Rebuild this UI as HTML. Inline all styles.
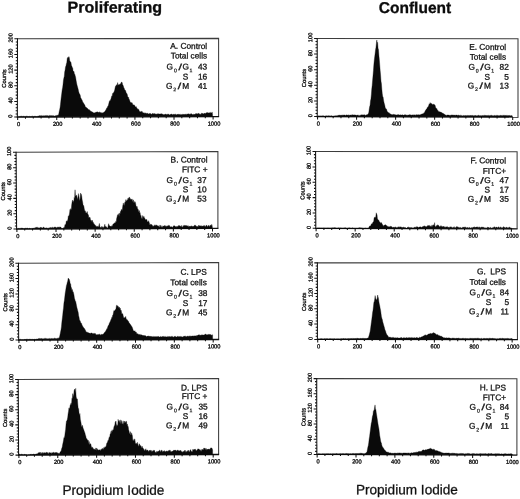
<!DOCTYPE html>
<html lang="en">
<head>
<meta charset="utf-8">
<title>Cell cycle analysis - Propidium Iodide</title>
<style>
html,body{margin:0;padding:0;background:#fff;}
body{width:520px;height:499px;overflow:hidden;}
svg{display:block;filter:blur(0.32px);}
text{font-family:"Liberation Sans", Arial, Helvetica, sans-serif;fill:#141414;text-rendering:geometricPrecision;}
.ttl{font-size:15.7px;font-weight:bold;fill:#0c0c0c;stroke:#0c0c0c;stroke-width:0.3px;}
.xl{font-size:13.6px;fill:#111;stroke:#111;stroke-width:0.28px;}
.an{font-size:8.3px;stroke:#141414;stroke-width:0.3px;}
.sb{font-size:5.2px;stroke:#141414;stroke-width:0.2px;}
.sl{font-size:8.8px;font-weight:bold;font-style:italic;stroke:#141414;stroke-width:0.35px;}
.tk{font-size:5.7px;fill:#151515;stroke:#151515;stroke-width:0.32px;}
.ct{font-size:5.8px;fill:#151515;stroke:#151515;stroke-width:0.32px;}
</style>
</head>
<body>
<svg width="520" height="499" viewBox="0 0 520 499">
<rect x="0" y="0" width="520" height="499" fill="#ffffff"/>
<text class="ttl" x="67.6" y="12.5" transform="rotate(0.03 67.6 12.5)" textLength="94.6" lengthAdjust="spacingAndGlyphs">Proliferating</text>
<text class="ttl" x="378.8" y="13.0" transform="rotate(0.03 378.8 13)" textLength="72.4" lengthAdjust="spacingAndGlyphs">Confluent</text>

<g id="panel-A">
<path d="M17.50 38.80L218.60 38.40L218.60 116.60" fill="none" stroke="#3c3c3c" stroke-width="1.05"/>
<path d="M17.50 38.30L17.35 117.65" fill="none" stroke="#111" stroke-width="1.05"/>
<path d="M16.85 117.05L219.10 116.60" fill="none" stroke="#111" stroke-width="1.3"/>
<path d="M17.35 117.05h-3.10M17.36 113.92h-1.70M17.36 110.79h-1.70M17.37 107.66h-1.70M17.37 104.53h-1.70M17.38 101.40h-3.10M17.39 98.27h-1.70M17.39 95.14h-1.70M17.40 92.01h-1.70M17.40 88.88h-1.70M17.41 85.75h-3.10M17.42 82.62h-1.70M17.42 79.49h-1.70M17.43 76.36h-1.70M17.43 73.23h-1.70M17.44 70.10h-3.10M17.45 66.97h-1.70M17.45 63.84h-1.70M17.46 60.71h-1.70M17.46 57.58h-1.70M17.47 54.45h-3.10M17.48 51.32h-1.70M17.48 48.19h-1.70M17.49 45.06h-1.70M17.49 41.93h-1.70M17.50 38.80h-3.10" stroke="#111" stroke-width="1.05" fill="none"/>
<text class="tk" text-anchor="middle" transform="translate(12.35 116.05) rotate(-89.95)">0</text>
<text class="tk" text-anchor="middle" transform="translate(12.38 100.40) rotate(-89.95)">40</text>
<text class="tk" text-anchor="middle" transform="translate(12.41 84.75) rotate(-89.95)">80</text>
<text class="tk" text-anchor="middle" transform="translate(12.44 69.10) rotate(-89.95)">120</text>
<text class="tk" text-anchor="middle" transform="translate(12.47 53.45) rotate(-89.95)">160</text>
<text class="tk" text-anchor="middle" transform="translate(12.50 37.80) rotate(-89.95)">200</text>
<text class="ct" text-anchor="middle" transform="translate(6.12 78.52) rotate(-89.95)">Counts</text>
<path d="M17.65 117.05v3.00M25.47 117.03v1.60M33.29 117.01v1.60M41.10 117.00v1.60M48.92 116.98v1.60M56.74 116.96v3.00M64.56 116.94v1.60M72.38 116.93v1.60M80.19 116.91v1.60M88.01 116.89v1.60M95.83 116.87v3.00M103.65 116.86v1.60M111.47 116.84v1.60M119.28 116.82v1.60M127.10 116.80v1.60M134.92 116.79v3.00M142.74 116.77v1.60M150.56 116.75v1.60M158.37 116.73v1.60M166.19 116.72v1.60M174.01 116.70v3.00M181.83 116.68v1.60M189.65 116.66v1.60M197.46 116.65v1.60M205.28 116.63v1.60M213.10 116.61v3.00" stroke="#111" stroke-width="1.05" fill="none"/>
<text class="tk" text-anchor="middle" x="18.55" y="125.90" transform="rotate(0.05 18.55 125.90)">0</text>
<text class="tk" text-anchor="middle" x="57.64" y="125.81" transform="rotate(0.05 57.64 125.81)">200</text>
<text class="tk" text-anchor="middle" x="96.73" y="125.72" transform="rotate(0.05 96.73 125.72)">400</text>
<text class="tk" text-anchor="middle" x="135.82" y="125.64" transform="rotate(0.05 135.82 125.64)">600</text>
<text class="tk" text-anchor="middle" x="174.91" y="125.55" transform="rotate(0.05 174.91 125.55)">800</text>
<text class="tk" text-anchor="middle" x="214.00" y="125.46" transform="rotate(0.05 214.00 125.46)">1000</text>
<path d="M18.50 117.05L18.50 116.30L18.92 116.42L19.34 116.56L19.76 116.61L20.18 116.41L20.60 116.33L21.02 116.17L21.44 116.23L21.86 116.27L22.28 116.67L22.70 116.21L23.12 116.32L23.54 116.21L23.96 116.30L24.38 116.39L24.80 116.42L25.22 116.43L25.64 116.40L26.06 116.26L26.48 116.14L26.90 116.29L27.32 116.40L27.74 116.25L28.16 116.40L28.58 116.56L29.00 116.43L29.42 116.34L29.84 116.38L30.26 116.54L30.68 116.49L31.10 116.36L31.52 116.40L31.94 116.38L32.36 116.19L32.78 116.13L33.20 116.38L33.62 116.41L34.04 116.24L34.46 116.25L34.88 116.33L35.30 116.28L35.72 116.37L36.14 116.35L36.56 116.55L36.98 116.40L37.40 116.25L37.82 116.35L38.24 116.10L38.66 115.96L39.08 115.99L39.50 115.59L39.92 115.73L40.34 115.83L40.76 115.69L41.18 115.44L41.60 115.87L42.02 115.70L42.44 115.71L42.86 115.99L43.28 115.63L43.70 115.79L44.12 115.70L44.54 115.86L44.96 115.77L45.38 115.62L45.80 115.69L46.22 115.45L46.64 115.63L47.06 115.60L47.48 115.80L47.90 115.60L48.32 115.73L48.74 115.92L49.16 115.67L49.58 115.39L50.00 115.38L50.42 115.77L50.84 115.43L51.26 115.57L51.68 115.74L52.10 115.84L52.52 115.45L52.94 115.88L53.36 115.70L53.78 115.64L54.20 116.07L54.62 115.88L55.04 116.01L55.46 115.76L55.88 115.48L56.30 115.34L56.72 115.81L57.14 115.52L57.56 115.24L57.98 115.07L58.40 115.23L58.82 113.58L59.24 111.30L59.66 109.52L60.08 107.41L60.50 104.11L60.92 100.10L61.34 96.55L61.76 93.15L62.18 89.76L62.60 87.73L63.02 84.55L63.44 80.19L63.86 78.09L64.28 76.47L64.70 71.71L65.12 70.07L65.54 66.73L65.96 66.02L66.38 63.66L66.80 62.62L67.22 58.20L67.64 57.94L68.06 57.00L68.48 58.19L68.90 56.54L69.32 57.80L69.74 60.65L70.16 61.56L70.58 61.85L71.00 62.43L71.42 65.46L71.84 65.98L72.26 67.75L72.68 67.76L73.10 71.08L73.52 71.55L73.94 71.18L74.36 73.70L74.78 74.21L75.20 75.73L75.62 77.14L76.04 80.09L76.46 82.27L76.88 84.40L77.30 86.10L77.72 87.61L78.14 89.01L78.56 91.18L78.98 92.62L79.40 93.87L79.82 94.34L80.24 95.37L80.66 97.77L81.08 98.18L81.50 99.32L81.92 99.73L82.34 100.76L82.76 102.06L83.18 102.93L83.60 102.78L84.02 104.36L84.44 104.48L84.86 104.97L85.28 106.85L85.70 106.94L86.12 107.38L86.54 107.66L86.96 107.81L87.38 108.31L87.80 108.69L88.22 109.58L88.64 109.39L89.06 109.85L89.48 109.81L89.90 110.44L90.32 110.74L90.74 111.21L91.16 111.50L91.58 111.62L92.00 111.84L92.42 112.06L92.84 112.27L93.26 112.74L93.68 112.73L94.10 112.89L94.52 112.78L94.94 113.04L95.36 112.13L95.78 112.44L96.20 112.32L96.62 112.06L97.04 112.07L97.46 111.84L97.88 112.19L98.30 112.42L98.72 112.35L99.14 111.86L99.56 112.20L99.98 112.49L100.40 112.35L100.82 113.09L101.24 112.41L101.66 113.29L102.08 112.78L102.50 112.74L102.92 113.22L103.34 112.61L103.76 112.23L104.18 112.09L104.60 111.78L105.02 111.15L105.44 110.62L105.86 109.78L106.28 109.16L106.70 108.07L107.12 107.98L107.54 106.62L107.96 106.13L108.38 105.33L108.80 103.58L109.22 101.75L109.64 100.77L110.06 100.88L110.48 99.63L110.90 99.13L111.32 97.57L111.74 96.02L112.16 96.14L112.58 93.40L113.00 93.50L113.42 92.64L113.84 92.28L114.26 91.28L114.68 90.10L115.10 87.81L115.52 86.11L115.94 86.19L116.36 84.70L116.78 84.95L117.20 85.43L117.62 82.60L118.04 84.36L118.46 85.18L118.88 84.54L119.30 84.21L119.72 84.65L120.14 84.22L120.56 83.51L120.98 83.73L121.40 82.00L121.82 82.08L122.24 82.85L122.66 84.88L123.08 85.26L123.50 86.51L123.92 88.03L124.34 88.40L124.76 89.98L125.18 90.26L125.60 90.59L126.02 92.15L126.44 93.43L126.86 93.37L127.28 94.51L127.70 96.60L128.12 97.45L128.54 97.00L128.96 99.17L129.38 99.48L129.80 100.83L130.22 102.59L130.64 102.22L131.06 102.45L131.48 102.99L131.90 102.44L132.32 103.14L132.74 104.50L133.16 104.83L133.58 104.88L134.00 104.67L134.42 105.01L134.84 106.02L135.26 106.78L135.68 107.12L136.10 106.53L136.52 107.46L136.94 108.19L137.36 108.57L137.78 109.17L138.20 109.15L138.62 109.17L139.04 110.38L139.46 111.16L139.88 111.48L140.30 111.89L140.72 111.44L141.14 111.55L141.56 111.22L141.98 111.76L142.40 111.68L142.82 112.71L143.24 113.07L143.66 112.65L144.08 112.79L144.50 112.88L144.92 113.42L145.34 113.22L145.76 112.87L146.18 113.68L146.60 113.22L147.02 113.31L147.44 113.11L147.86 113.74L148.28 113.97L148.70 113.84L149.12 113.79L149.54 113.31L149.96 113.85L150.38 113.69L150.80 113.39L151.22 114.28L151.64 114.28L152.06 113.77L152.48 113.50L152.90 113.48L153.32 113.50L153.74 113.93L154.16 114.06L154.58 113.55L155.00 113.57L155.42 114.27L155.84 113.90L156.26 114.23L156.68 113.95L157.10 114.16L157.52 113.67L157.94 113.69L158.36 113.71L158.78 113.97L159.20 114.12L159.62 114.04L160.04 113.84L160.46 113.88L160.88 113.94L161.30 113.80L161.72 113.86L162.14 113.96L162.56 114.16L162.98 114.22L163.40 114.48L163.82 114.81L164.24 114.39L164.66 114.51L165.08 114.46L165.50 113.93L165.92 114.04L166.34 114.27L166.76 114.84L167.18 114.42L167.60 114.16L168.02 114.07L168.44 114.16L168.86 114.21L169.28 114.66L169.70 114.88L170.12 114.43L170.54 114.57L170.96 114.09L171.38 114.02L171.80 114.20L172.22 114.83L172.64 114.46L173.06 114.55L173.48 114.35L173.90 114.34L174.32 114.45L174.74 114.22L175.16 114.16L175.58 114.23L176.00 114.55L176.42 114.77L176.84 114.65L177.26 114.11L177.68 114.50L178.10 114.30L178.52 114.35L178.94 114.47L179.36 114.51L179.78 114.35L180.20 114.38L180.62 114.38L181.04 114.78L181.46 114.57L181.88 114.39L182.30 114.10L182.72 114.93L183.14 114.31L183.56 114.41L183.98 114.19L184.40 114.42L184.82 114.29L185.24 114.09L185.66 114.38L186.08 114.29L186.50 114.22L186.92 114.39L187.34 114.07L187.76 114.09L188.18 114.01L188.60 113.79L189.02 114.06L189.44 114.13L189.86 114.21L190.28 114.22L190.70 113.72L191.12 113.70L191.54 113.69L191.96 114.16L192.38 114.60L192.80 114.62L193.22 114.54L193.64 114.21L194.06 114.32L194.48 114.55L194.90 114.11L195.32 114.20L195.74 113.54L196.16 113.60L196.58 113.81L197.00 113.70L197.42 113.65L197.84 113.88L198.26 113.37L198.68 113.26L199.10 114.17L199.52 113.64L199.94 114.23L200.36 114.20L200.78 114.17L201.20 114.14L201.62 113.08L202.04 113.13L202.46 113.48L202.88 113.46L203.30 113.90L203.72 113.75L204.14 113.12L204.56 113.43L204.98 113.28L205.40 113.42L205.82 113.14L206.24 112.69L206.66 112.83L207.08 112.82L207.50 112.46L207.92 112.87L208.34 113.10L208.76 112.80L209.18 112.65L209.60 112.87L210.02 112.69L210.44 112.30L210.86 113.16L211.28 112.88L211.70 112.88L212.12 111.93L212.54 114.26L212.54 116.61 Z" fill="#0a0a0a" stroke="#0a0a0a" stroke-width="0.35" stroke-linejoin="round"/>
<text class="an" text-anchor="end" x="207.20" y="48.90" transform="rotate(0.05 207.20 48.90)" xml:space="preserve">A. Control</text>
<text class="an" text-anchor="end" x="207.20" y="58.60" transform="rotate(0.05 207.20 58.60)">Total cells</text>
<text class="an" x="166.60" y="69.60" transform="rotate(0.05 166.60 69.60)">G</text>
<text class="sb" x="174.00" y="72.20" transform="rotate(0.05 174.00 72.20)">0</text>
<text class="sl" x="178.80" y="69.90" transform="rotate(0.05 178.80 69.90)">/</text>
<text class="an" x="182.40" y="69.60" transform="rotate(0.05 182.40 69.60)">G</text>
<text class="sb" x="189.40" y="72.20" transform="rotate(0.05 189.40 72.20)">1</text>
<text class="an" text-anchor="end" x="207.20" y="69.60" transform="rotate(0.05 207.20 69.60)">43</text>
<text class="an" x="182.80" y="79.50" transform="rotate(0.05 182.80 79.50)">S</text>
<text class="an" text-anchor="end" x="207.20" y="79.50" transform="rotate(0.05 207.20 79.50)">16</text>
<text class="an" x="166.00" y="88.70" transform="rotate(0.05 166.00 88.70)">G</text>
<text class="sb" x="173.20" y="91.30" transform="rotate(0.05 173.20 91.30)">2</text>
<text class="sl" x="178.00" y="89.00" transform="rotate(0.05 178.00 89.00)">/</text>
<text class="an" x="182.20" y="88.70" transform="rotate(0.05 182.20 88.70)">M</text>
<text class="an" text-anchor="end" x="207.20" y="88.70" transform="rotate(0.05 207.20 88.70)">41</text>
</g>
<g id="panel-B">
<path d="M16.10 152.30L217.90 151.50L217.90 228.40" fill="none" stroke="#3c3c3c" stroke-width="1.05"/>
<path d="M16.10 151.80L16.60 229.65" fill="none" stroke="#111" stroke-width="1.05"/>
<path d="M16.10 229.05L218.40 228.40" fill="none" stroke="#111" stroke-width="1.3"/>
<path d="M16.60 229.05h-3.10M16.58 225.98h-1.70M16.56 222.91h-1.70M16.54 219.84h-1.70M16.52 216.77h-1.70M16.50 213.70h-3.10M16.48 210.63h-1.70M16.46 207.56h-1.70M16.44 204.49h-1.70M16.42 201.42h-1.70M16.40 198.35h-3.10M16.38 195.28h-1.70M16.36 192.21h-1.70M16.34 189.14h-1.70M16.32 186.07h-1.70M16.30 183.00h-3.10M16.28 179.93h-1.70M16.26 176.86h-1.70M16.24 173.79h-1.70M16.22 170.72h-1.70M16.20 167.65h-3.10M16.18 164.58h-1.70M16.16 161.51h-1.70M16.14 158.44h-1.70M16.12 155.37h-1.70M16.10 152.30h-3.10" stroke="#111" stroke-width="1.05" fill="none"/>
<text class="tk" text-anchor="middle" transform="translate(11.60 228.05) rotate(-89.95)">0</text>
<text class="tk" text-anchor="middle" transform="translate(11.50 212.70) rotate(-89.95)">20</text>
<text class="tk" text-anchor="middle" transform="translate(11.40 197.35) rotate(-89.95)">40</text>
<text class="tk" text-anchor="middle" transform="translate(11.30 182.00) rotate(-89.95)">60</text>
<text class="tk" text-anchor="middle" transform="translate(11.20 166.65) rotate(-89.95)">80</text>
<text class="tk" text-anchor="middle" transform="translate(11.10 151.30) rotate(-89.95)">100</text>
<text class="ct" text-anchor="middle" transform="translate(5.05 191.28) rotate(-89.95)">Counts</text>
<path d="M16.90 229.05v3.00M24.72 229.02v1.60M32.55 229.00v1.60M40.37 228.97v1.60M48.20 228.95v1.60M56.02 228.92v3.00M63.84 228.90v1.60M71.67 228.87v1.60M79.49 228.85v1.60M87.32 228.82v1.60M95.14 228.80v3.00M102.96 228.77v1.60M110.79 228.75v1.60M118.61 228.72v1.60M126.44 228.70v1.60M134.26 228.67v3.00M142.08 228.64v1.60M149.91 228.62v1.60M157.73 228.59v1.60M165.56 228.57v1.60M173.38 228.54v3.00M181.20 228.52v1.60M189.03 228.49v1.60M196.85 228.47v1.60M204.68 228.44v1.60M212.50 228.42v3.00" stroke="#111" stroke-width="1.05" fill="none"/>
<text class="tk" text-anchor="middle" x="17.80" y="237.90" transform="rotate(0.05 17.80 237.90)">0</text>
<text class="tk" text-anchor="middle" x="56.92" y="237.77" transform="rotate(0.05 56.92 237.77)">200</text>
<text class="tk" text-anchor="middle" x="96.04" y="237.65" transform="rotate(0.05 96.04 237.65)">400</text>
<text class="tk" text-anchor="middle" x="135.16" y="237.52" transform="rotate(0.05 135.16 237.52)">600</text>
<text class="tk" text-anchor="middle" x="174.28" y="237.39" transform="rotate(0.05 174.28 237.39)">800</text>
<text class="tk" text-anchor="middle" x="213.40" y="237.27" transform="rotate(0.05 213.40 237.27)">1000</text>
<path d="M17.50 229.05L17.50 228.20L17.92 228.64L18.34 228.46L18.76 228.14L19.18 228.73L19.60 228.40L20.02 228.58L20.44 228.34L20.86 228.70L21.28 227.87L21.70 228.33L22.12 228.57L22.54 227.98L22.96 228.02L23.38 228.55L23.80 228.69L24.22 228.41L24.64 228.61L25.06 228.52L25.48 227.94L25.90 228.18L26.32 228.30L26.74 228.33L27.16 228.42L27.58 228.03L28.00 227.99L28.42 228.67L28.84 228.88L29.26 228.02L29.68 228.34L30.10 228.58L30.52 228.15L30.94 228.75L31.36 228.89L31.78 228.22L32.20 228.52L32.62 228.26L33.04 228.06L33.46 228.18L33.88 228.33L34.30 228.21L34.72 228.14L35.14 227.42L35.56 227.93L35.98 227.51L36.40 226.91L36.82 227.63L37.24 227.38L37.66 227.40L38.08 227.58L38.50 227.97L38.92 227.73L39.34 228.03L39.76 227.73L40.18 227.87L40.60 227.33L41.02 227.15L41.44 228.10L41.86 227.38L42.28 227.91L42.70 227.99L43.12 227.72L43.54 226.97L43.96 227.06L44.38 228.32L44.80 227.99L45.22 228.13L45.64 227.95L46.06 227.94L46.48 228.33L46.90 227.56L47.32 228.48L47.74 228.56L48.16 228.49L48.58 228.22L49.00 227.59L49.42 227.83L49.84 228.21L50.26 227.92L50.68 227.37L51.10 227.21L51.52 227.89L51.94 227.65L52.36 227.39L52.78 227.26L53.20 227.49L53.62 228.48L54.04 226.95L54.46 227.20L54.88 227.30L55.30 226.93L55.72 227.35L56.14 227.42L56.56 227.63L56.98 227.92L57.40 227.21L57.82 226.88L58.24 227.56L58.66 226.86L59.08 227.46L59.50 227.23L59.92 226.84L60.34 226.98L60.76 227.10L61.18 227.99L61.60 228.26L62.02 228.54L62.44 228.47L62.86 228.40L63.28 228.33L63.70 227.54L64.12 227.45L64.54 227.30L64.96 224.45L65.38 224.74L65.80 224.24L66.22 221.60L66.64 220.74L67.06 221.58L67.48 220.77L67.90 219.22L68.32 215.82L68.74 216.13L69.16 215.15L69.58 212.66L70.00 209.36L70.42 210.84L70.84 208.58L71.26 210.10L71.68 204.67L72.10 201.97L72.52 199.97L72.94 201.64L73.36 200.76L73.78 202.70L74.20 197.52L74.62 198.30L75.04 189.80L75.46 195.97L75.88 195.93L76.30 194.94L76.72 195.70L77.14 197.19L77.56 199.67L77.98 197.17L78.40 193.60L78.82 195.39L79.24 198.28L79.66 200.71L80.08 199.02L80.50 192.99L80.92 194.60L81.34 194.27L81.76 196.36L82.18 200.06L82.60 201.74L83.02 204.79L83.44 205.24L83.86 206.25L84.28 208.70L84.70 210.69L85.12 210.65L85.54 211.46L85.96 213.13L86.38 212.95L86.80 212.65L87.22 211.46L87.64 213.86L88.06 214.38L88.48 215.09L88.90 217.91L89.32 217.60L89.74 217.08L90.16 217.77L90.58 220.23L91.00 220.18L91.42 220.40L91.84 221.72L92.26 220.11L92.68 221.62L93.10 223.20L93.52 222.45L93.94 224.14L94.36 224.23L94.78 224.49L95.20 225.97L95.62 225.25L96.04 226.74L96.46 226.20L96.88 226.44L97.30 226.35L97.72 226.48L98.14 226.68L98.56 226.72L98.98 225.01L99.40 223.41L99.82 226.57L100.24 226.99L100.66 227.45L101.08 227.47L101.50 227.29L101.92 226.15L102.34 227.27L102.76 227.25L103.18 227.38L103.60 227.19L104.02 227.17L104.44 225.68L104.86 224.21L105.28 226.58L105.70 226.49L106.12 227.10L106.54 226.68L106.96 227.63L107.38 227.98L107.80 227.79L108.22 225.57L108.64 223.67L109.06 225.00L109.48 225.80L109.90 226.06L110.32 226.60L110.74 226.07L111.16 226.51L111.58 226.18L112.00 225.55L112.42 226.62L112.84 224.40L113.26 223.95L113.68 223.82L114.10 223.61L114.52 222.75L114.94 223.09L115.36 222.63L115.78 221.42L116.20 222.09L116.62 218.57L117.04 217.02L117.46 215.21L117.88 214.54L118.30 215.82L118.72 213.59L119.14 216.51L119.56 213.11L119.98 214.81L120.40 211.37L120.82 211.67L121.24 209.52L121.66 209.60L122.08 210.69L122.50 207.93L122.92 204.94L123.34 202.93L123.76 205.03L124.18 205.45L124.60 203.14L125.02 201.83L125.44 202.31L125.86 199.60L126.28 200.85L126.70 201.28L127.12 199.74L127.54 200.47L127.96 198.00L128.38 197.89L128.80 199.51L129.22 197.07L129.64 197.29L130.06 199.78L130.48 198.62L130.90 199.50L131.32 200.04L131.74 199.04L132.16 198.96L132.58 201.63L133.00 200.63L133.42 199.82L133.84 202.77L134.26 202.70L134.68 201.60L135.10 201.71L135.52 202.98L135.94 205.31L136.36 207.80L136.78 206.09L137.20 206.66L137.62 209.22L138.04 208.88L138.46 210.47L138.88 212.32L139.30 210.39L139.72 212.94L140.14 212.73L140.56 216.06L140.98 215.32L141.40 217.77L141.82 218.45L142.24 218.80L142.66 215.45L143.08 217.58L143.50 216.99L143.92 216.17L144.34 217.98L144.76 217.95L145.18 220.26L145.60 219.35L146.02 220.05L146.44 219.28L146.86 219.74L147.28 221.36L147.70 222.03L148.12 221.68L148.54 220.66L148.96 221.93L149.38 222.97L149.80 224.99L150.22 225.20L150.64 224.06L151.06 224.21L151.48 224.74L151.90 224.53L152.32 225.25L152.74 226.25L153.16 226.44L153.58 225.85L154.00 225.68L154.42 225.66L154.84 224.65L155.26 226.12L155.68 225.15L156.10 224.99L156.52 225.13L156.94 225.30L157.36 225.57L157.78 226.02L158.20 225.82L158.62 226.08L159.04 227.08L159.46 227.25L159.88 225.06L160.30 225.20L160.72 226.33L161.14 227.35L161.56 226.93L161.98 225.56L162.40 227.39L162.82 226.67L163.24 225.93L163.66 226.13L164.08 225.79L164.50 226.20L164.92 225.13L165.34 226.22L165.76 226.34L166.18 226.16L166.60 226.21L167.02 226.60L167.44 225.73L167.86 226.11L168.28 226.04L168.70 225.17L169.12 225.27L169.54 225.68L169.96 226.55L170.38 226.82L170.80 226.99L171.22 226.71L171.64 226.66L172.06 227.12L172.48 227.45L172.90 226.65L173.32 226.19L173.74 225.85L174.16 225.60L174.58 226.02L175.00 226.03L175.42 226.61L175.84 226.89L176.26 227.34L176.68 226.33L177.10 226.14L177.52 227.13L177.94 225.95L178.36 226.13L178.78 225.35L179.20 225.80L179.62 225.79L180.04 225.75L180.46 226.13L180.88 226.57L181.30 227.04L181.72 225.25L182.14 227.16L182.56 227.08L182.98 226.46L183.40 225.88L183.82 225.35L184.24 225.46L184.66 225.43L185.08 225.66L185.50 225.15L185.92 226.01L186.34 225.41L186.76 225.85L187.18 226.25L187.60 226.08L188.02 225.47L188.44 226.48L188.86 226.64L189.28 226.11L189.70 226.45L190.12 226.04L190.54 226.43L190.96 226.34L191.38 226.21L191.80 225.86L192.22 225.97L192.64 226.83L193.06 226.45L193.48 226.33L193.90 225.91L194.32 225.79L194.74 224.90L195.16 225.48L195.58 225.26L196.00 225.93L196.42 226.39L196.84 226.32L197.26 226.32L197.68 226.85L198.10 226.70L198.52 225.47L198.94 225.22L199.36 225.90L199.78 225.65L200.20 225.91L200.62 225.66L201.04 226.46L201.46 226.03L201.88 225.62L202.30 225.91L202.72 226.34L203.14 226.15L203.56 225.72L203.98 225.60L204.40 225.50L204.82 226.24L205.24 227.02L205.66 225.90L206.08 225.75L206.50 224.96L206.92 225.59L207.34 226.87L207.76 226.42L208.18 225.81L208.60 225.24L209.02 225.73L209.44 226.95L209.86 225.68L210.28 225.21L210.70 225.17L211.12 225.96L211.54 224.65L211.96 224.46L212.38 227.43L212.38 228.42 Z" fill="#0a0a0a" stroke="#0a0a0a" stroke-width="0.35" stroke-linejoin="round"/>
<text class="an" text-anchor="end" x="207.50" y="162.50" transform="rotate(0.05 207.50 162.50)" xml:space="preserve">B. Control</text>
<text class="an" text-anchor="end" x="207.50" y="172.30" transform="rotate(0.05 207.50 172.30)">FITC +</text>
<text class="an" x="166.60" y="183.00" transform="rotate(0.05 166.60 183.00)">G</text>
<text class="sb" x="174.00" y="185.60" transform="rotate(0.05 174.00 185.60)">0</text>
<text class="sl" x="178.80" y="183.30" transform="rotate(0.05 178.80 183.30)">/</text>
<text class="an" x="182.40" y="183.00" transform="rotate(0.05 182.40 183.00)">G</text>
<text class="sb" x="189.40" y="185.60" transform="rotate(0.05 189.40 185.60)">1</text>
<text class="an" text-anchor="end" x="206.50" y="183.00" transform="rotate(0.05 206.50 183.00)">37</text>
<text class="an" x="182.80" y="192.30" transform="rotate(0.05 182.80 192.30)">S</text>
<text class="an" text-anchor="end" x="206.50" y="192.30" transform="rotate(0.05 206.50 192.30)">10</text>
<text class="an" x="166.00" y="201.50" transform="rotate(0.05 166.00 201.50)">G</text>
<text class="sb" x="173.20" y="204.10" transform="rotate(0.05 173.20 204.10)">2</text>
<text class="sl" x="178.00" y="201.80" transform="rotate(0.05 178.00 201.80)">/</text>
<text class="an" x="182.20" y="201.50" transform="rotate(0.05 182.20 201.50)">M</text>
<text class="an" text-anchor="end" x="206.50" y="201.50" transform="rotate(0.05 206.50 201.50)">53</text>
</g>
<g id="panel-C">
<path d="M18.50 263.20L218.65 262.50L218.65 339.50" fill="none" stroke="#3c3c3c" stroke-width="1.05"/>
<path d="M18.50 262.70L18.65 340.65" fill="none" stroke="#111" stroke-width="1.05"/>
<path d="M18.15 340.05L219.15 339.50" fill="none" stroke="#111" stroke-width="1.3"/>
<path d="M18.65 340.05h-3.10M18.64 336.98h-1.70M18.64 333.90h-1.70M18.63 330.83h-1.70M18.63 327.75h-1.70M18.62 324.68h-3.10M18.61 321.61h-1.70M18.61 318.53h-1.70M18.60 315.46h-1.70M18.60 312.38h-1.70M18.59 309.31h-3.10M18.58 306.24h-1.70M18.58 303.16h-1.70M18.57 300.09h-1.70M18.57 297.01h-1.70M18.56 293.94h-3.10M18.55 290.87h-1.70M18.55 287.79h-1.70M18.54 284.72h-1.70M18.54 281.64h-1.70M18.53 278.57h-3.10M18.52 275.50h-1.70M18.52 272.42h-1.70M18.51 269.35h-1.70M18.51 266.27h-1.70M18.50 263.20h-3.10" stroke="#111" stroke-width="1.05" fill="none"/>
<text class="tk" text-anchor="middle" transform="translate(13.65 339.05) rotate(-89.95)">0</text>
<text class="tk" text-anchor="middle" transform="translate(13.62 323.68) rotate(-89.95)">40</text>
<text class="tk" text-anchor="middle" transform="translate(13.59 308.31) rotate(-89.95)">80</text>
<text class="tk" text-anchor="middle" transform="translate(13.56 292.94) rotate(-89.95)">120</text>
<text class="tk" text-anchor="middle" transform="translate(13.53 277.57) rotate(-89.95)">160</text>
<text class="tk" text-anchor="middle" transform="translate(13.50 262.20) rotate(-89.95)">200</text>
<text class="ct" text-anchor="middle" transform="translate(7.27 302.23) rotate(-89.95)">Counts</text>
<path d="M18.95 340.05v3.00M26.72 340.03v1.60M34.49 340.01v1.60M42.26 339.99v1.60M50.03 339.96v1.60M57.80 339.94v3.00M65.57 339.92v1.60M73.34 339.90v1.60M81.11 339.88v1.60M88.88 339.86v1.60M96.65 339.84v3.00M104.42 339.81v1.60M112.19 339.79v1.60M119.96 339.77v1.60M127.73 339.75v1.60M135.50 339.73v3.00M143.27 339.71v1.60M151.04 339.69v1.60M158.81 339.66v1.60M166.58 339.64v1.60M174.35 339.62v3.00M182.12 339.60v1.60M189.89 339.58v1.60M197.66 339.56v1.60M205.43 339.54v1.60M213.20 339.51v3.00" stroke="#111" stroke-width="1.05" fill="none"/>
<text class="tk" text-anchor="middle" x="19.85" y="348.90" transform="rotate(0.05 19.85 348.90)">0</text>
<text class="tk" text-anchor="middle" x="58.70" y="348.79" transform="rotate(0.05 58.70 348.79)">200</text>
<text class="tk" text-anchor="middle" x="97.55" y="348.69" transform="rotate(0.05 97.55 348.69)">400</text>
<text class="tk" text-anchor="middle" x="136.40" y="348.58" transform="rotate(0.05 136.40 348.58)">600</text>
<text class="tk" text-anchor="middle" x="175.25" y="348.47" transform="rotate(0.05 175.25 348.47)">800</text>
<text class="tk" text-anchor="middle" x="214.10" y="348.36" transform="rotate(0.05 214.10 348.36)">1000</text>
<path d="M19.00 340.05L19.00 339.30L19.42 339.42L19.84 339.69L20.26 339.40L20.68 339.33L21.10 339.44L21.52 339.68L21.94 339.68L22.36 339.60L22.78 339.68L23.20 339.63L23.62 339.64L24.04 339.34L24.46 339.51L24.88 339.21L25.30 339.35L25.72 339.50L26.14 339.14L26.56 339.30L26.98 339.20L27.40 339.16L27.82 339.47L28.24 339.61L28.66 339.29L29.08 339.20L29.50 339.22L29.92 339.31L30.34 339.35L30.76 339.23L31.18 339.40L31.60 339.30L32.02 339.19L32.44 339.25L32.86 339.29L33.28 339.34L33.70 339.55L34.12 339.11L34.54 339.22L34.96 339.28L35.38 339.35L35.80 339.33L36.22 339.21L36.64 339.02L37.06 339.11L37.48 339.00L37.90 338.91L38.32 338.62L38.74 338.65L39.16 338.60L39.58 338.41L40.00 338.67L40.42 338.53L40.84 338.81L41.26 338.55L41.68 338.55L42.10 338.61L42.52 338.81L42.94 338.89L43.36 338.68L43.78 338.65L44.20 338.42L44.62 338.45L45.04 338.70L45.46 338.32L45.88 338.53L46.30 338.43L46.72 338.69L47.14 338.94L47.56 338.66L47.98 338.60L48.40 338.71L48.82 338.70L49.24 338.37L49.66 338.63L50.08 338.76L50.50 338.70L50.92 338.47L51.34 338.68L51.76 338.33L52.18 338.30L52.60 338.66L53.02 338.91L53.44 338.55L53.86 338.52L54.28 338.18L54.70 338.28L55.12 338.36L55.54 338.32L55.96 338.88L56.38 338.56L56.80 338.50L57.22 338.13L57.64 338.23L58.06 338.66L58.48 337.87L58.90 338.23L59.32 337.51L59.74 335.96L60.16 333.88L60.58 331.80L61.00 329.79L61.42 326.89L61.84 322.18L62.26 318.84L62.68 315.20L63.10 310.90L63.52 307.95L63.94 302.80L64.36 300.58L64.78 297.04L65.20 293.20L65.62 290.69L66.04 288.05L66.46 285.39L66.88 284.27L67.30 282.32L67.72 281.14L68.14 278.20L68.56 278.60L68.98 278.87L69.40 279.80L69.82 281.20L70.24 284.06L70.66 283.79L71.08 287.61L71.50 287.64L71.92 290.54L72.34 289.40L72.76 291.83L73.18 291.85L73.60 293.32L74.02 295.25L74.44 298.34L74.86 299.44L75.28 300.91L75.70 301.42L76.12 303.49L76.54 305.84L76.96 307.83L77.38 309.29L77.80 310.91L78.22 312.39L78.64 315.73L79.06 317.30L79.48 320.00L79.90 320.45L80.32 321.27L80.74 322.69L81.16 322.90L81.58 323.45L82.00 324.96L82.42 325.70L82.84 326.49L83.26 326.90L83.68 327.89L84.10 328.06L84.52 328.73L84.94 329.41L85.36 329.94L85.78 331.18L86.20 332.14L86.62 331.81L87.04 332.54L87.46 332.28L87.88 332.53L88.30 332.70L88.72 332.85L89.14 333.12L89.56 333.05L89.98 333.48L90.40 333.42L90.82 332.91L91.24 332.97L91.66 333.02L92.08 333.23L92.50 333.29L92.92 334.01L93.34 333.79L93.76 333.31L94.18 333.45L94.60 333.43L95.02 333.60L95.44 333.61L95.86 334.45L96.28 334.71L96.70 334.70L97.12 334.56L97.54 334.66L97.96 334.42L98.38 334.48L98.80 334.39L99.22 334.38L99.64 334.14L100.06 334.20L100.48 335.20L100.90 335.02L101.32 334.40L101.74 334.26L102.16 334.13L102.58 334.57L103.00 334.29L103.42 333.92L103.84 333.47L104.26 332.76L104.68 332.37L105.10 332.09L105.52 331.17L105.94 330.55L106.36 329.88L106.78 328.78L107.20 328.69L107.62 327.21L108.04 325.96L108.46 325.28L108.88 325.02L109.30 323.31L109.72 322.61L110.14 321.78L110.56 320.65L110.98 319.50L111.40 318.99L111.82 317.26L112.24 317.47L112.66 315.13L113.08 314.80L113.50 312.52L113.92 310.45L114.34 310.82L114.76 310.91L115.18 309.69L115.60 309.49L116.02 308.53L116.44 305.30L116.86 305.39L117.28 305.73L117.70 305.76L118.12 307.28L118.54 306.53L118.96 308.28L119.38 307.00L119.80 308.67L120.22 308.06L120.64 310.55L121.06 310.01L121.48 311.77L121.90 314.16L122.32 313.63L122.74 313.72L123.16 315.60L123.58 317.46L124.00 317.71L124.42 317.76L124.84 317.56L125.26 317.22L125.68 316.42L126.10 318.40L126.52 319.28L126.94 319.76L127.36 319.87L127.78 320.52L128.20 322.10L128.62 321.24L129.04 323.12L129.46 323.30L129.88 323.60L130.30 324.27L130.72 324.92L131.14 325.56L131.56 326.20L131.98 326.84L132.40 327.79L132.82 329.09L133.24 330.33L133.66 330.94L134.08 331.09L134.50 331.34L134.92 330.67L135.34 332.21L135.76 332.02L136.18 331.98L136.60 333.17L137.02 333.93L137.44 333.77L137.86 333.80L138.28 334.45L138.70 334.13L139.12 334.45L139.54 334.49L139.96 334.61L140.38 334.41L140.80 335.13L141.22 334.93L141.64 334.67L142.06 335.24L142.48 335.39L142.90 335.06L143.32 335.47L143.74 335.58L144.16 335.48L144.58 335.70L145.00 335.30L145.42 335.67L145.84 335.97L146.26 336.66L146.68 336.46L147.10 336.04L147.52 336.33L147.94 336.05L148.36 336.20L148.78 335.89L149.20 335.95L149.62 336.53L150.04 336.32L150.46 336.54L150.88 336.22L151.30 336.42L151.72 336.56L152.14 336.62L152.56 336.72L152.98 336.79L153.40 336.40L153.82 336.84L154.24 336.62L154.66 336.65L155.08 336.98L155.50 336.85L155.92 336.26L156.34 336.77L156.76 336.66L157.18 336.80L157.60 336.48L158.02 336.47L158.44 336.48L158.86 336.58L159.28 336.90L159.70 336.95L160.12 336.67L160.54 336.47L160.96 336.87L161.38 336.75L161.80 336.89L162.22 336.61L162.64 336.55L163.06 336.33L163.48 336.39L163.90 336.78L164.32 336.87L164.74 336.53L165.16 336.92L165.58 336.41L166.00 336.75L166.42 337.06L166.84 336.68L167.26 336.33L167.68 336.93L168.10 337.16L168.52 336.62L168.94 336.32L169.36 336.42L169.78 336.82L170.20 336.76L170.62 336.74L171.04 336.55L171.46 336.27L171.88 336.70L172.30 336.39L172.72 336.78L173.14 336.70L173.56 337.23L173.98 337.11L174.40 336.41L174.82 336.37L175.24 336.22L175.66 336.72L176.08 336.78L176.50 337.02L176.92 336.95L177.34 336.52L177.76 336.19L178.18 336.18L178.60 336.89L179.02 336.52L179.44 336.60L179.86 336.71L180.28 336.36L180.70 336.69L181.12 336.67L181.54 336.54L181.96 337.13L182.38 337.11L182.80 336.77L183.22 336.74L183.64 336.28L184.06 336.26L184.48 336.33L184.90 335.89L185.32 336.42L185.74 336.15L186.16 336.54L186.58 336.65L187.00 336.36L187.42 336.31L187.84 335.92L188.26 336.47L188.68 336.22L189.10 336.32L189.52 335.80L189.94 336.43L190.36 335.81L190.78 336.42L191.20 335.97L191.62 336.22L192.04 336.01L192.46 335.94L192.88 336.03L193.30 336.22L193.72 335.80L194.14 335.96L194.56 336.09L194.98 335.61L195.40 336.03L195.82 336.03L196.24 336.16L196.66 335.51L197.08 335.09L197.50 335.64L197.92 335.19L198.34 334.92L198.76 334.86L199.18 335.58L199.60 334.84L200.02 334.78L200.44 335.43L200.86 335.00L201.28 335.15L201.70 334.83L202.12 334.96L202.54 334.74L202.96 335.30L203.38 335.07L203.80 334.94L204.22 334.84L204.64 335.02L205.06 334.09L205.48 334.14L205.90 334.17L206.32 334.73L206.74 334.87L207.16 334.45L207.58 334.75L208.00 335.25L208.42 334.50L208.84 333.99L209.26 334.18L209.68 334.70L210.10 334.27L210.52 334.62L210.94 334.95L211.36 335.13L211.78 334.90L212.20 334.53L212.62 335.27L212.62 339.52 Z" fill="#0a0a0a" stroke="#0a0a0a" stroke-width="0.35" stroke-linejoin="round"/>
<text class="an" text-anchor="end" x="206.80" y="274.70" transform="rotate(0.05 206.80 274.70)" xml:space="preserve">C. LPS</text>
<text class="an" text-anchor="end" x="206.80" y="285.30" transform="rotate(0.05 206.80 285.30)">Total cells</text>
<text class="an" x="166.60" y="295.90" transform="rotate(0.05 166.60 295.90)">G</text>
<text class="sb" x="174.00" y="298.50" transform="rotate(0.05 174.00 298.50)">0</text>
<text class="sl" x="178.80" y="296.20" transform="rotate(0.05 178.80 296.20)">/</text>
<text class="an" x="182.40" y="295.90" transform="rotate(0.05 182.40 295.90)">G</text>
<text class="sb" x="189.40" y="298.50" transform="rotate(0.05 189.40 298.50)">1</text>
<text class="an" text-anchor="end" x="207.40" y="295.90" transform="rotate(0.05 207.40 295.90)">38</text>
<text class="an" x="182.80" y="305.90" transform="rotate(0.05 182.80 305.90)">S</text>
<text class="an" text-anchor="end" x="207.40" y="305.90" transform="rotate(0.05 207.40 305.90)">17</text>
<text class="an" x="166.00" y="315.20" transform="rotate(0.05 166.00 315.20)">G</text>
<text class="sb" x="173.20" y="317.80" transform="rotate(0.05 173.20 317.80)">2</text>
<text class="sl" x="178.00" y="315.50" transform="rotate(0.05 178.00 315.50)">/</text>
<text class="an" x="182.20" y="315.20" transform="rotate(0.05 182.20 315.20)">M</text>
<text class="an" text-anchor="end" x="207.40" y="315.20" transform="rotate(0.05 207.40 315.20)">45</text>
</g>
<g id="panel-D">
<path d="M18.20 379.50L218.60 378.50L218.60 454.50" fill="none" stroke="#3c3c3c" stroke-width="1.05"/>
<path d="M18.20 379.00L18.60 455.70" fill="none" stroke="#111" stroke-width="1.05"/>
<path d="M18.10 455.10L219.10 454.50" fill="none" stroke="#111" stroke-width="1.3"/>
<path d="M18.60 455.10h-3.10M18.58 452.08h-1.70M18.57 449.05h-1.70M18.55 446.03h-1.70M18.54 443.00h-1.70M18.52 439.98h-3.10M18.50 436.96h-1.70M18.49 433.93h-1.70M18.47 430.91h-1.70M18.46 427.88h-1.70M18.44 424.86h-3.10M18.42 421.84h-1.70M18.41 418.81h-1.70M18.39 415.79h-1.70M18.38 412.76h-1.70M18.36 409.74h-3.10M18.34 406.72h-1.70M18.33 403.69h-1.70M18.31 400.67h-1.70M18.30 397.64h-1.70M18.28 394.62h-3.10M18.26 391.60h-1.70M18.25 388.57h-1.70M18.23 385.55h-1.70M18.22 382.52h-1.70M18.20 379.50h-3.10" stroke="#111" stroke-width="1.05" fill="none"/>
<text class="tk" text-anchor="middle" transform="translate(13.60 454.10) rotate(-89.95)">0</text>
<text class="tk" text-anchor="middle" transform="translate(13.52 438.98) rotate(-89.95)">20</text>
<text class="tk" text-anchor="middle" transform="translate(13.44 423.86) rotate(-89.95)">40</text>
<text class="tk" text-anchor="middle" transform="translate(13.36 408.74) rotate(-89.95)">60</text>
<text class="tk" text-anchor="middle" transform="translate(13.28 393.62) rotate(-89.95)">80</text>
<text class="tk" text-anchor="middle" transform="translate(13.20 378.50) rotate(-89.95)">100</text>
<text class="ct" text-anchor="middle" transform="translate(7.10 417.90) rotate(-89.95)">Counts</text>
<path d="M18.90 455.10v3.00M26.67 455.08v1.60M34.44 455.05v1.60M42.22 455.03v1.60M49.99 455.01v1.60M57.76 454.98v3.00M65.53 454.96v1.60M73.30 454.94v1.60M81.08 454.91v1.60M88.85 454.89v1.60M96.62 454.87v3.00M104.39 454.84v1.60M112.16 454.82v1.60M119.94 454.80v1.60M127.71 454.77v1.60M135.48 454.75v3.00M143.25 454.73v1.60M151.02 454.70v1.60M158.80 454.68v1.60M166.57 454.66v1.60M174.34 454.63v3.00M182.11 454.61v1.60M189.88 454.59v1.60M197.66 454.56v1.60M205.43 454.54v1.60M213.20 454.52v3.00" stroke="#111" stroke-width="1.05" fill="none"/>
<text class="tk" text-anchor="middle" x="19.80" y="463.95" transform="rotate(0.05 19.80 463.95)">0</text>
<text class="tk" text-anchor="middle" x="58.66" y="463.83" transform="rotate(0.05 58.66 463.83)">200</text>
<text class="tk" text-anchor="middle" x="97.52" y="463.72" transform="rotate(0.05 97.52 463.72)">400</text>
<text class="tk" text-anchor="middle" x="136.38" y="463.60" transform="rotate(0.05 136.38 463.60)">600</text>
<text class="tk" text-anchor="middle" x="175.24" y="463.48" transform="rotate(0.05 175.24 463.48)">800</text>
<text class="tk" text-anchor="middle" x="214.10" y="463.37" transform="rotate(0.05 214.10 463.37)">1000</text>
<path d="M19.00 455.10L19.00 454.30L19.42 454.32L19.84 454.16L20.26 454.30L20.68 454.96L21.10 454.60L21.52 454.21L21.94 454.06L22.36 454.23L22.78 455.02L23.20 454.64L23.62 454.69L24.04 454.39L24.46 454.38L24.88 454.09L25.30 454.63L25.72 454.81L26.14 454.32L26.56 455.08L26.98 455.07L27.40 455.07L27.82 454.97L28.24 454.79L28.66 454.73L29.08 454.89L29.50 455.07L29.92 454.25L30.34 454.35L30.76 454.46L31.18 454.65L31.60 454.31L32.02 454.61L32.44 454.55L32.86 454.19L33.28 454.02L33.70 454.26L34.12 453.94L34.54 454.45L34.96 454.65L35.38 454.19L35.80 454.07L36.22 453.91L36.64 453.90L37.06 453.55L37.48 453.63L37.90 453.93L38.32 452.56L38.74 452.92L39.16 452.58L39.58 452.40L40.00 452.89L40.42 452.13L40.84 453.71L41.26 453.41L41.68 453.03L42.10 452.35L42.52 452.86L42.94 453.40L43.36 452.51L43.78 453.47L44.20 453.01L44.62 452.40L45.04 453.14L45.46 453.12L45.88 452.49L46.30 452.48L46.72 452.15L47.14 452.71L47.56 452.53L47.98 453.50L48.40 454.04L48.82 452.56L49.24 452.84L49.66 452.43L50.08 453.05L50.50 452.66L50.92 452.99L51.34 453.64L51.76 452.52L52.18 452.79L52.60 452.65L53.02 453.31L53.44 452.22L53.86 452.26L54.28 452.44L54.70 453.14L55.12 453.09L55.54 452.24L55.96 452.81L56.38 452.52L56.80 452.52L57.22 453.32L57.64 452.61L58.06 453.97L58.48 453.27L58.90 453.30L59.32 453.87L59.74 452.89L60.16 452.10L60.58 451.49L61.00 451.38L61.42 449.59L61.84 447.96L62.26 447.12L62.68 444.34L63.10 442.56L63.52 440.29L63.94 437.49L64.36 437.89L64.78 435.69L65.20 432.17L65.62 429.39L66.04 424.17L66.46 421.01L66.88 420.74L67.30 419.52L67.72 417.20L68.14 413.50L68.56 411.22L68.98 407.83L69.40 409.20L69.82 407.42L70.24 404.86L70.66 404.81L71.08 402.90L71.50 405.19L71.92 398.21L72.34 398.61L72.76 393.60L73.18 394.96L73.60 397.20L74.02 391.00L74.44 389.61L74.86 389.02L75.28 393.25L75.70 388.30L76.12 396.37L76.54 398.81L76.96 398.81L77.38 398.93L77.80 404.31L78.22 408.92L78.64 408.48L79.06 413.05L79.48 415.78L79.90 413.53L80.32 419.20L80.74 421.18L81.16 423.45L81.58 427.16L82.00 426.09L82.42 425.28L82.84 427.22L83.26 428.58L83.68 429.57L84.10 430.87L84.52 432.01L84.94 433.02L85.36 434.95L85.78 435.91L86.20 438.21L86.62 438.79L87.04 438.73L87.46 440.80L87.88 440.03L88.30 440.35L88.72 443.99L89.14 441.43L89.56 444.94L89.98 444.11L90.40 443.63L90.82 443.90L91.24 446.24L91.66 447.33L92.08 448.18L92.50 446.91L92.92 448.20L93.34 448.56L93.76 449.14L94.18 449.28L94.60 449.24L95.02 449.49L95.44 450.31L95.86 447.86L96.28 450.65L96.70 448.01L97.12 449.28L97.54 449.18L97.96 449.67L98.38 450.01L98.80 450.14L99.22 449.92L99.64 450.06L100.06 449.47L100.48 451.19L100.90 449.65L101.32 449.41L101.74 449.04L102.16 448.53L102.58 448.45L103.00 449.52L103.42 448.90L103.84 447.47L104.26 448.10L104.68 447.44L105.10 446.54L105.52 447.27L105.94 447.07L106.36 445.09L106.78 443.14L107.20 442.79L107.62 441.70L108.04 440.27L108.46 440.86L108.88 438.18L109.30 436.82L109.72 437.44L110.14 433.91L110.56 433.67L110.98 431.18L111.40 430.79L111.82 433.76L112.24 429.67L112.66 431.95L113.08 429.98L113.50 429.46L113.92 427.01L114.34 425.71L114.76 425.18L115.18 422.13L115.60 421.59L116.02 421.04L116.44 426.72L116.86 424.58L117.28 425.24L117.70 426.23L118.12 419.30L118.54 421.53L118.96 420.87L119.38 420.38L119.80 421.88L120.22 424.13L120.64 419.80L121.06 424.16L121.48 420.49L121.90 421.77L122.32 424.20L122.74 423.76L123.16 420.80L123.58 424.84L124.00 422.87L124.42 421.06L124.84 423.18L125.26 421.39L125.68 423.18L126.10 421.60L126.52 421.27L126.94 425.00L127.36 424.11L127.78 426.14L128.20 426.41L128.62 429.86L129.04 431.01L129.46 434.29L129.88 433.10L130.30 431.60L130.72 435.12L131.14 435.04L131.56 432.80L131.98 434.29L132.40 435.69L132.82 440.58L133.24 439.56L133.66 441.02L134.08 440.95L134.50 438.82L134.92 439.47L135.34 442.74L135.76 443.72L136.18 443.49L136.60 443.25L137.02 444.73L137.44 442.24L137.86 444.01L138.28 445.73L138.70 446.54L139.12 443.71L139.54 444.08L139.96 445.79L140.38 445.73L140.80 445.42L141.22 447.68L141.64 447.43L142.06 446.00L142.48 447.63L142.90 447.68L143.32 448.60L143.74 449.21L144.16 449.39L144.58 450.63L145.00 450.40L145.42 449.75L145.84 448.70L146.26 450.14L146.68 450.47L147.10 449.90L147.52 449.97L147.94 450.54L148.36 451.95L148.78 450.83L149.20 451.14L149.62 450.10L150.04 450.94L150.46 449.94L150.88 451.10L151.30 451.93L151.72 450.31L152.14 451.40L152.56 450.91L152.98 451.21L153.40 450.41L153.82 450.32L154.24 450.34L154.66 450.60L155.08 452.35L155.50 452.52L155.92 452.23L156.34 452.46L156.76 451.31L157.18 451.31L157.60 452.02L158.02 451.56L158.44 451.36L158.86 451.03L159.28 450.50L159.70 450.14L160.12 450.42L160.54 452.17L160.96 451.18L161.38 450.13L161.80 450.14L162.22 450.79L162.64 452.35L163.06 451.53L163.48 450.92L163.90 451.61L164.32 450.50L164.74 451.54L165.16 451.46L165.58 451.78L166.00 451.20L166.42 450.96L166.84 451.37L167.26 451.48L167.68 451.11L168.10 451.15L168.52 450.39L168.94 451.32L169.36 450.27L169.78 450.17L170.20 450.16L170.62 451.53L171.04 451.83L171.46 452.09L171.88 451.07L172.30 451.01L172.72 451.51L173.14 451.05L173.56 450.33L173.98 450.11L174.40 450.39L174.82 450.10L175.24 450.58L175.66 450.08L176.08 450.24L176.50 451.13L176.92 451.12L177.34 450.06L177.76 450.18L178.18 450.13L178.60 450.64L179.02 450.88L179.44 450.76L179.86 450.64L180.28 451.09L180.70 450.05L181.12 450.96L181.54 452.09L181.96 451.54L182.38 452.43L182.80 451.73L183.22 452.09L183.64 451.13L184.06 451.77L184.48 450.33L184.90 451.21L185.32 450.36L185.74 452.25L186.16 452.14L186.58 451.54L187.00 451.52L187.42 450.67L187.84 451.45L188.26 450.11L188.68 451.03L189.10 452.08L189.52 451.71L189.94 450.41L190.36 449.89L190.78 449.60L191.20 451.95L191.62 451.29L192.04 451.92L192.46 451.24L192.88 449.19L193.30 450.22L193.72 449.59L194.14 449.50L194.56 449.50L194.98 448.96L195.40 449.16L195.82 450.18L196.24 450.98L196.66 450.41L197.08 449.54L197.50 449.92L197.92 448.65L198.34 449.03L198.76 449.08L199.18 449.14L199.60 450.08L200.02 449.60L200.44 450.00L200.86 451.30L201.28 451.27L201.70 449.49L202.12 449.60L202.54 449.16L202.96 450.15L203.38 449.45L203.80 448.02L204.22 447.98L204.64 448.76L205.06 447.98L205.48 449.19L205.90 449.40L206.32 448.51L206.74 450.60L207.16 449.10L207.58 449.76L208.00 449.10L208.42 449.33L208.84 449.10L209.26 449.32L209.68 449.35L210.10 449.14L210.52 447.90L210.94 447.90L211.36 447.90L211.78 447.90L212.20 448.73L212.62 449.97L212.62 454.52 Z" fill="#0a0a0a" stroke="#0a0a0a" stroke-width="0.35" stroke-linejoin="round"/>
<text class="an" text-anchor="end" x="207.30" y="390.50" transform="rotate(0.05 207.30 390.50)" xml:space="preserve">D. LPS</text>
<text class="an" text-anchor="end" x="207.30" y="399.00" transform="rotate(0.05 207.30 399.00)">FITC +</text>
<text class="an" x="166.60" y="409.60" transform="rotate(0.05 166.60 409.60)">G</text>
<text class="sb" x="174.00" y="412.20" transform="rotate(0.05 174.00 412.20)">0</text>
<text class="sl" x="178.80" y="409.90" transform="rotate(0.05 178.80 409.90)">/</text>
<text class="an" x="182.40" y="409.60" transform="rotate(0.05 182.40 409.60)">G</text>
<text class="sb" x="189.40" y="412.20" transform="rotate(0.05 189.40 412.20)">1</text>
<text class="an" text-anchor="end" x="207.70" y="409.60" transform="rotate(0.05 207.70 409.60)">35</text>
<text class="an" x="182.80" y="419.00" transform="rotate(0.05 182.80 419.00)">S</text>
<text class="an" text-anchor="end" x="207.70" y="419.00" transform="rotate(0.05 207.70 419.00)">16</text>
<text class="an" x="166.00" y="428.20" transform="rotate(0.05 166.00 428.20)">G</text>
<text class="sb" x="173.20" y="430.80" transform="rotate(0.05 173.20 430.80)">2</text>
<text class="sl" x="178.00" y="428.50" transform="rotate(0.05 178.00 428.50)">/</text>
<text class="an" x="182.20" y="428.20" transform="rotate(0.05 182.20 428.20)">M</text>
<text class="an" text-anchor="end" x="207.70" y="428.20" transform="rotate(0.05 207.70 428.20)">49</text>
</g>
<g id="panel-E">
<path d="M317.20 38.40L518.00 38.85L518.00 117.00" fill="none" stroke="#3c3c3c" stroke-width="1.05"/>
<path d="M317.20 37.90L317.25 117.15" fill="none" stroke="#111" stroke-width="1.05"/>
<path d="M316.75 116.55L518.50 117.00" fill="none" stroke="#111" stroke-width="1.3"/>
<path d="M317.25 116.55h-3.10M317.25 113.42h-1.70M317.25 110.30h-1.70M317.24 107.17h-1.70M317.24 104.05h-1.70M317.24 100.92h-3.10M317.24 97.79h-1.70M317.24 94.67h-1.70M317.23 91.54h-1.70M317.23 88.42h-1.70M317.23 85.29h-3.10M317.23 82.16h-1.70M317.23 79.04h-1.70M317.22 75.91h-1.70M317.22 72.79h-1.70M317.22 69.66h-3.10M317.22 66.53h-1.70M317.22 63.41h-1.70M317.21 60.28h-1.70M317.21 57.16h-1.70M317.21 54.03h-3.10M317.21 50.90h-1.70M317.21 47.78h-1.70M317.20 44.65h-1.70M317.20 41.53h-1.70M317.20 38.40h-3.10" stroke="#111" stroke-width="1.05" fill="none"/>
<text class="tk" text-anchor="middle" transform="translate(312.25 115.55) rotate(-89.95)">0</text>
<text class="tk" text-anchor="middle" transform="translate(312.24 99.92) rotate(-89.95)">20</text>
<text class="tk" text-anchor="middle" transform="translate(312.23 84.29) rotate(-89.95)">40</text>
<text class="tk" text-anchor="middle" transform="translate(312.22 68.66) rotate(-89.95)">60</text>
<text class="tk" text-anchor="middle" transform="translate(312.21 53.03) rotate(-89.95)">80</text>
<text class="tk" text-anchor="middle" transform="translate(312.20 37.40) rotate(-89.95)">100</text>
<text class="ct" text-anchor="middle" transform="translate(305.93 78.07) rotate(-89.95)">Counts</text>
<path d="M317.55 116.55v3.00M325.36 116.57v1.60M333.16 116.59v1.60M340.97 116.60v1.60M348.77 116.62v1.60M356.58 116.64v3.00M364.39 116.66v1.60M372.19 116.67v1.60M380.00 116.69v1.60M387.80 116.71v1.60M395.61 116.73v3.00M403.42 116.74v1.60M411.22 116.76v1.60M419.03 116.78v1.60M426.83 116.80v1.60M434.64 116.81v3.00M442.45 116.83v1.60M450.25 116.85v1.60M458.06 116.87v1.60M465.86 116.88v1.60M473.67 116.90v3.00M481.48 116.92v1.60M489.28 116.94v1.60M497.09 116.95v1.60M504.89 116.97v1.60M512.70 116.99v3.00" stroke="#111" stroke-width="1.05" fill="none"/>
<text class="tk" text-anchor="middle" x="318.45" y="125.40" transform="rotate(0.05 318.45 125.40)">0</text>
<text class="tk" text-anchor="middle" x="357.48" y="125.49" transform="rotate(0.05 357.48 125.49)">200</text>
<text class="tk" text-anchor="middle" x="396.51" y="125.58" transform="rotate(0.05 396.51 125.58)">400</text>
<text class="tk" text-anchor="middle" x="435.54" y="125.66" transform="rotate(0.05 435.54 125.66)">600</text>
<text class="tk" text-anchor="middle" x="474.57" y="125.75" transform="rotate(0.05 474.57 125.75)">800</text>
<text class="tk" text-anchor="middle" x="513.60" y="125.84" transform="rotate(0.05 513.60 125.84)">1000</text>
<path d="M318.00 116.55L318.00 115.90L318.42 115.80L318.84 115.93L319.26 115.81L319.68 116.01L320.10 115.92L320.52 115.87L320.94 115.95L321.36 115.99L321.78 115.75L322.20 115.79L322.62 115.86L323.04 115.89L323.46 115.85L323.88 115.73L324.30 116.01L324.72 115.99L325.14 116.07L325.56 115.87L325.98 115.95L326.40 115.80L326.82 115.85L327.24 116.01L327.66 115.82L328.08 115.67L328.50 115.72L328.92 115.70L329.34 115.66L329.76 115.96L330.18 115.86L330.60 116.00L331.02 115.74L331.44 115.83L331.86 115.74L332.28 115.89L332.70 116.10L333.12 115.95L333.54 115.99L333.96 115.96L334.38 115.83L334.80 115.98L335.22 115.82L335.64 115.79L336.06 115.76L336.48 115.65L336.90 115.87L337.32 115.54L337.74 115.77L338.16 115.25L338.58 115.34L339.00 115.31L339.42 115.31L339.84 115.08L340.26 115.23L340.68 115.30L341.10 115.11L341.52 115.29L341.94 115.26L342.36 115.17L342.78 115.06L343.20 115.16L343.62 115.05L344.04 115.08L344.46 115.00L344.88 114.95L345.30 115.38L345.72 115.23L346.14 115.08L346.56 114.91L346.98 114.87L347.40 115.18L347.82 115.07L348.24 114.85L348.66 115.25L349.08 115.27L349.50 115.23L349.92 115.07L350.34 114.97L350.76 115.11L351.18 114.80L351.60 115.15L352.02 115.06L352.44 114.84L352.86 114.85L353.28 114.95L353.70 114.89L354.12 114.83L354.54 114.97L354.96 114.89L355.38 115.12L355.80 114.97L356.22 115.30L356.64 115.29L357.06 115.35L357.48 114.90L357.90 115.10L358.32 115.14L358.74 115.40L359.16 115.39L359.58 115.40L360.00 115.39L360.42 115.00L360.84 115.28L361.26 114.92L361.68 114.68L362.10 114.99L362.52 114.73L362.94 115.00L363.36 114.82L363.78 115.09L364.20 114.69L364.62 114.87L365.04 115.18L365.46 115.20L365.88 115.19L366.30 114.92L366.72 114.69L367.14 114.70L367.56 114.44L367.98 114.06L368.40 113.54L368.82 112.24L369.24 108.98L369.66 106.59L370.08 105.32L370.50 100.76L370.92 98.89L371.34 94.87L371.76 88.98L372.18 85.47L372.60 80.22L373.02 75.60L373.44 70.53L373.86 64.53L374.28 60.26L374.70 56.71L375.12 53.42L375.54 49.80L375.96 47.44L376.38 43.37L376.80 40.00L377.22 42.92L377.64 42.36L378.06 48.25L378.48 49.61L378.90 55.37L379.32 59.53L379.74 64.96L380.16 70.40L380.58 75.02L381.00 81.15L381.42 83.45L381.84 89.21L382.26 93.47L382.68 96.43L383.10 97.01L383.52 99.97L383.94 102.30L384.36 103.73L384.78 105.26L385.20 107.43L385.62 108.57L386.04 108.77L386.46 109.07L386.88 110.44L387.30 111.75L387.72 111.84L388.14 112.79L388.56 112.79L388.98 112.60L389.40 113.14L389.82 113.46L390.24 113.82L390.66 114.02L391.08 114.60L391.50 114.75L391.92 114.16L392.34 114.76L392.76 114.84L393.18 114.33L393.60 114.39L394.02 114.62L394.44 114.61L394.86 114.63L395.28 114.62L395.70 115.08L396.12 115.11L396.54 115.01L396.96 114.83L397.38 114.77L397.80 114.84L398.22 114.61L398.64 114.87L399.06 114.82L399.48 115.04L399.90 115.12L400.32 114.71L400.74 114.94L401.16 115.11L401.58 114.99L402.00 115.08L402.42 114.75L402.84 114.89L403.26 115.10L403.68 115.36L404.10 115.03L404.52 114.63L404.94 114.99L405.36 114.84L405.78 114.80L406.20 115.26L406.62 114.98L407.04 115.23L407.46 115.23L407.88 114.96L408.30 115.02L408.72 114.95L409.14 114.73L409.56 114.75L409.98 114.63L410.40 115.02L410.82 114.65L411.24 115.15L411.66 114.97L412.08 114.99L412.50 114.93L412.92 114.84L413.34 114.85L413.76 115.15L414.18 115.02L414.60 114.81L415.02 115.19L415.44 115.17L415.86 114.63L416.28 114.79L416.70 114.75L417.12 114.94L417.54 114.81L417.96 114.70L418.38 114.71L418.80 114.78L419.22 114.93L419.64 114.75L420.06 114.92L420.48 114.44L420.90 114.51L421.32 114.33L421.74 114.12L422.16 114.06L422.58 113.81L423.00 113.80L423.42 113.76L423.84 112.83L424.26 112.99L424.68 112.08L425.10 111.13L425.52 110.35L425.94 109.81L426.36 109.12L426.78 108.88L427.20 107.51L427.62 107.45L428.04 106.39L428.46 106.40L428.88 104.77L429.30 103.77L429.72 104.21L430.14 102.60L430.56 103.17L430.98 103.84L431.40 103.85L431.82 103.59L432.24 104.11L432.66 104.63L433.08 104.63L433.50 104.12L433.92 104.17L434.34 104.47L434.76 104.98L435.18 105.61L435.60 107.39L436.02 108.00L436.44 108.87L436.86 108.48L437.28 110.21L437.70 110.26L438.12 110.60L438.54 111.42L438.96 111.66L439.38 111.80L439.80 111.67L440.22 112.36L440.64 112.00L441.06 112.11L441.48 112.46L441.90 112.82L442.32 112.95L442.74 113.30L443.16 113.42L443.58 113.69L444.00 113.81L444.42 114.30L444.84 114.44L445.26 114.85L445.68 115.00L446.10 115.46L446.52 115.28L446.94 115.13L447.36 115.06L447.78 114.95L448.20 115.08L448.62 115.11L449.04 115.05L449.46 115.31L449.88 115.57L450.30 115.54L450.72 114.93L451.14 114.97L451.56 114.98L451.98 115.15L452.40 115.02L452.82 115.12L453.24 115.35L453.66 115.00L454.08 115.08L454.50 115.27L454.92 115.04L455.34 115.21L455.76 115.18L456.18 115.04L456.60 115.11L457.02 115.12L457.44 115.31L457.86 115.39L458.28 115.10L458.70 115.24L459.12 115.30L459.54 115.46L459.96 115.43L460.38 115.15L460.80 115.47L461.22 115.41L461.64 115.45L462.06 115.68L462.48 115.82L462.90 115.82L463.32 115.51L463.74 115.50L464.16 115.61L464.58 115.63L465.00 115.60L465.42 115.52L465.84 115.49L466.26 115.70L466.68 115.52L467.10 115.35L467.52 115.44L467.94 115.63L468.36 115.50L468.78 115.45L469.20 115.35L469.62 115.71L470.04 115.38L470.46 115.51L470.88 115.37L471.30 115.37L471.72 115.66L472.14 115.60L472.56 115.40L472.98 115.30L473.40 115.67L473.82 115.85L474.24 115.69L474.66 115.41L475.08 115.28L475.50 115.49L475.92 115.54L476.34 115.64L476.76 115.69L477.18 115.75L477.60 115.61L478.02 115.40L478.44 115.29L478.86 115.37L479.28 115.62L479.70 115.63L480.12 115.71L480.54 115.55L480.96 115.64L481.38 115.87L481.80 115.51L482.22 115.54L482.64 115.51L483.06 115.67L483.48 115.45L483.90 115.51L484.32 115.38L484.74 115.23L485.16 115.23L485.58 115.50L486.00 115.50L486.42 115.53L486.84 115.50L487.26 115.44L487.68 115.62L488.10 115.66L488.52 115.34L488.94 115.39L489.36 115.55L489.78 115.67L490.20 115.56L490.62 115.39L491.04 115.31L491.46 115.26L491.88 115.51L492.30 115.54L492.72 115.71L493.14 115.64L493.56 115.68L493.98 115.69L494.40 115.27L494.82 115.38L495.24 115.39L495.66 115.76L496.08 115.54L496.50 115.37L496.92 115.65L497.34 115.51L497.76 115.29L498.18 115.41L498.60 115.73L499.02 115.61L499.44 115.67L499.86 115.52L500.28 115.30L500.70 115.50L501.12 115.30L501.54 115.57L501.96 115.67L502.38 115.38L502.80 115.48L503.22 115.43L503.64 115.31L504.06 115.32L504.48 115.32L504.90 115.70L505.32 115.57L505.74 115.34L506.16 115.36L506.58 115.42L507.00 115.72L507.42 115.50L507.84 115.38L508.26 115.58L508.68 115.56L509.10 115.59L509.52 115.48L509.94 115.55L510.36 115.72L510.78 115.69L511.20 115.61L511.62 115.72L512.04 115.55L512.46 116.42L512.46 116.99 Z" fill="#0a0a0a" stroke="#0a0a0a" stroke-width="0.35" stroke-linejoin="round"/>
<text class="an" text-anchor="end" x="506.10" y="49.90" transform="rotate(0.05 506.10 49.90)" xml:space="preserve">E. Control</text>
<text class="an" text-anchor="end" x="506.10" y="59.80" transform="rotate(0.05 506.10 59.80)">Total cells</text>
<text class="an" x="468.40" y="69.80" transform="rotate(0.05 468.40 69.80)">G</text>
<text class="sb" x="475.80" y="72.40" transform="rotate(0.05 475.80 72.40)">0</text>
<text class="sl" x="480.60" y="70.10" transform="rotate(0.05 480.60 70.10)">/</text>
<text class="an" x="484.20" y="69.80" transform="rotate(0.05 484.20 69.80)">G</text>
<text class="sb" x="491.20" y="72.40" transform="rotate(0.05 491.20 72.40)">1</text>
<text class="an" text-anchor="end" x="508.80" y="69.80" transform="rotate(0.05 508.80 69.80)">82</text>
<text class="an" x="484.60" y="79.80" transform="rotate(0.05 484.60 79.80)">S</text>
<text class="an" text-anchor="end" x="508.80" y="79.80" transform="rotate(0.05 508.80 79.80)">5</text>
<text class="an" x="467.80" y="88.50" transform="rotate(0.05 467.80 88.50)">G</text>
<text class="sb" x="475.00" y="91.10" transform="rotate(0.05 475.00 91.10)">2</text>
<text class="sl" x="479.80" y="88.80" transform="rotate(0.05 479.80 88.80)">/</text>
<text class="an" x="484.00" y="88.50" transform="rotate(0.05 484.00 88.50)">M</text>
<text class="an" text-anchor="end" x="508.80" y="88.50" transform="rotate(0.05 508.80 88.50)">13</text>
</g>
<g id="panel-F">
<path d="M315.60 151.55L517.10 151.75L517.10 228.80" fill="none" stroke="#3c3c3c" stroke-width="1.05"/>
<path d="M315.60 151.05L315.80 228.90" fill="none" stroke="#111" stroke-width="1.05"/>
<path d="M315.30 228.30L517.60 228.80" fill="none" stroke="#111" stroke-width="1.3"/>
<path d="M315.80 228.30h-3.10M315.79 225.23h-1.70M315.78 222.16h-1.70M315.78 219.09h-1.70M315.77 216.02h-1.70M315.76 212.95h-3.10M315.75 209.88h-1.70M315.74 206.81h-1.70M315.74 203.74h-1.70M315.73 200.67h-1.70M315.72 197.60h-3.10M315.71 194.53h-1.70M315.70 191.46h-1.70M315.70 188.39h-1.70M315.69 185.32h-1.70M315.68 182.25h-3.10M315.67 179.18h-1.70M315.66 176.11h-1.70M315.66 173.04h-1.70M315.65 169.97h-1.70M315.64 166.90h-3.10M315.63 163.83h-1.70M315.62 160.76h-1.70M315.62 157.69h-1.70M315.61 154.62h-1.70M315.60 151.55h-3.10" stroke="#111" stroke-width="1.05" fill="none"/>
<text class="tk" text-anchor="middle" transform="translate(310.80 227.30) rotate(-89.95)">0</text>
<text class="tk" text-anchor="middle" transform="translate(310.76 211.95) rotate(-89.95)">20</text>
<text class="tk" text-anchor="middle" transform="translate(310.72 196.60) rotate(-89.95)">40</text>
<text class="tk" text-anchor="middle" transform="translate(310.68 181.25) rotate(-89.95)">60</text>
<text class="tk" text-anchor="middle" transform="translate(310.64 165.90) rotate(-89.95)">80</text>
<text class="tk" text-anchor="middle" transform="translate(310.60 150.55) rotate(-89.95)">100</text>
<text class="ct" text-anchor="middle" transform="translate(304.40 190.53) rotate(-89.95)">Counts</text>
<path d="M316.10 228.30v3.00M323.91 228.32v1.60M331.72 228.34v1.60M339.54 228.36v1.60M347.35 228.38v1.60M355.16 228.40v3.00M362.97 228.42v1.60M370.78 228.44v1.60M378.60 228.46v1.60M386.41 228.48v1.60M394.22 228.49v3.00M402.03 228.51v1.60M409.84 228.53v1.60M417.66 228.55v1.60M425.47 228.57v1.60M433.28 228.59v3.00M441.09 228.61v1.60M448.90 228.63v1.60M456.72 228.65v1.60M464.53 228.67v1.60M472.34 228.69v3.00M480.15 228.71v1.60M487.96 228.73v1.60M495.78 228.75v1.60M503.59 228.77v1.60M511.40 228.79v3.00" stroke="#111" stroke-width="1.05" fill="none"/>
<text class="tk" text-anchor="middle" x="317.00" y="237.15" transform="rotate(0.05 317.00 237.15)">0</text>
<text class="tk" text-anchor="middle" x="356.06" y="237.25" transform="rotate(0.05 356.06 237.25)">200</text>
<text class="tk" text-anchor="middle" x="395.12" y="237.34" transform="rotate(0.05 395.12 237.34)">400</text>
<text class="tk" text-anchor="middle" x="434.18" y="237.44" transform="rotate(0.05 434.18 237.44)">600</text>
<text class="tk" text-anchor="middle" x="473.24" y="237.54" transform="rotate(0.05 473.24 237.54)">800</text>
<text class="tk" text-anchor="middle" x="512.30" y="237.64" transform="rotate(0.05 512.30 237.64)">1000</text>
<path d="M317.00 228.30L317.00 228.00L317.42 228.30L317.84 227.88L318.26 228.18L318.68 228.20L319.10 228.28L319.52 228.09L319.94 228.31L320.36 228.31L320.78 228.31L321.20 228.31L321.62 228.23L322.04 228.22L322.46 228.27L322.88 228.32L323.30 228.04L323.72 228.22L324.14 228.19L324.56 228.22L324.98 228.29L325.40 228.32L325.82 228.32L326.24 228.33L326.66 228.31L327.08 228.33L327.50 228.06L327.92 228.33L328.34 227.89L328.76 228.29L329.18 228.33L329.60 228.33L330.02 228.34L330.44 228.34L330.86 228.11L331.28 228.22L331.70 227.88L332.12 227.77L332.54 227.99L332.96 228.02L333.38 228.01L333.80 227.77L334.22 227.80L334.64 227.81L335.06 227.77L335.48 228.06L335.90 227.83L336.32 228.35L336.74 227.93L337.16 227.95L337.58 228.35L338.00 228.14L338.42 228.03L338.84 227.75L339.26 228.16L339.68 227.92L340.10 228.17L340.52 228.06L340.94 227.75L341.36 228.02L341.78 228.36L342.20 228.28L342.62 228.25L343.04 227.86L343.46 228.21L343.88 228.37L344.30 227.85L344.72 227.97L345.14 227.86L345.56 228.07L345.98 227.82L346.40 228.33L346.82 228.38L347.24 228.38L347.66 228.38L348.08 228.21L348.50 227.91L348.92 228.10L349.34 228.00L349.76 227.72L350.18 228.05L350.60 228.22L351.02 228.15L351.44 228.35L351.86 227.88L352.28 227.76L352.70 228.15L353.12 227.92L353.54 228.39L353.96 228.39L354.38 228.40L354.80 228.40L355.22 228.40L355.64 228.40L356.06 228.40L356.48 228.39L356.90 228.40L357.32 228.40L357.74 228.35L358.16 228.04L358.58 227.98L359.00 228.05L359.42 227.69L359.84 227.69L360.26 227.96L360.68 227.82L361.10 228.09L361.52 227.84L361.94 228.25L362.36 227.93L362.78 228.42L363.20 228.42L363.62 228.42L364.04 228.42L364.46 228.42L364.88 228.04L365.30 228.17L365.72 227.92L366.14 228.05L366.56 228.43L366.98 228.16L367.40 228.33L367.82 228.24L368.24 228.16L368.66 227.80L369.08 227.35L369.50 226.12L369.92 225.91L370.34 226.04L370.76 225.55L371.18 224.24L371.60 223.95L372.02 223.39L372.44 223.71L372.86 222.27L373.28 221.85L373.70 221.42L374.12 217.73L374.54 217.80L374.96 216.87L375.38 217.95L375.80 216.66L376.22 212.80L376.64 213.95L377.06 215.07L377.48 219.26L377.90 219.31L378.32 220.29L378.74 219.98L379.16 221.26L379.58 222.08L380.00 222.28L380.42 223.59L380.84 222.39L381.26 222.60L381.68 222.94L382.10 224.08L382.52 224.55L382.94 225.38L383.36 225.60L383.78 226.44L384.20 224.93L384.62 225.24L385.04 224.71L385.46 224.81L385.88 225.06L386.30 225.85L386.72 225.39L387.14 226.37L387.56 226.37L387.98 226.85L388.40 226.48L388.82 226.96L389.24 226.79L389.66 226.82L390.08 226.76L390.50 226.24L390.92 226.34L391.34 226.44L391.76 226.87L392.18 226.91L392.60 227.86L393.02 227.53L393.44 227.04L393.86 227.34L394.28 227.78L394.70 227.12L395.12 227.31L395.54 226.75L395.96 227.52L396.38 227.62L396.80 227.65L397.22 227.48L397.64 227.20L398.06 227.15L398.48 226.96L398.90 226.73L399.32 226.73L399.74 227.58L400.16 227.02L400.58 226.86L401.00 226.97L401.42 226.91L401.84 227.78L402.26 227.13L402.68 227.83L403.10 227.33L403.52 227.18L403.94 227.22L404.36 227.47L404.78 227.49L405.20 227.49L405.62 227.58L406.04 228.27L406.46 228.27L406.88 228.10L407.30 227.77L407.72 227.08L408.14 226.78L408.56 227.17L408.98 227.82L409.40 227.61L409.82 227.49L410.24 227.58L410.66 227.71L411.08 227.19L411.50 227.48L411.92 228.27L412.34 228.30L412.76 227.51L413.18 228.39L413.60 227.67L414.02 227.70L414.44 227.01L414.86 227.19L415.28 227.66L415.70 226.83L416.12 227.44L416.54 226.65L416.96 226.65L417.38 227.05L417.80 226.75L418.22 227.16L418.64 227.73L419.06 226.91L419.48 227.05L419.90 226.94L420.32 226.90L420.74 226.80L421.16 226.99L421.58 227.39L422.00 227.05L422.42 226.66L422.84 226.83L423.26 226.83L423.68 226.00L424.10 225.93L424.52 225.84L424.94 226.47L425.36 226.35L425.78 226.76L426.20 226.97L426.62 226.54L427.04 226.06L427.46 226.21L427.88 225.21L428.30 225.59L428.72 225.77L429.14 225.39L429.56 225.53L429.98 226.47L430.40 226.82L430.82 225.65L431.24 226.81L431.66 226.23L432.08 224.85L432.50 227.00L432.92 225.44L433.34 224.77L433.76 225.14L434.18 225.45L434.60 222.60L435.02 226.41L435.44 226.84L435.86 226.33L436.28 226.19L436.70 225.41L437.12 225.22L437.54 224.73L437.96 225.83L438.38 225.20L438.80 225.60L439.22 226.16L439.64 226.77L440.06 227.28L440.48 225.79L440.90 226.11L441.32 225.76L441.74 226.79L442.16 226.57L442.58 226.85L443.00 226.77L443.42 226.09L443.84 227.00L444.26 226.61L444.68 227.04L445.10 227.68L445.52 226.83L445.94 226.89L446.36 227.03L446.78 226.65L447.20 226.42L447.62 226.99L448.04 227.60L448.46 227.57L448.88 227.06L449.30 227.20L449.72 227.76L450.14 226.63L450.56 227.13L450.98 226.65L451.40 226.93L451.82 227.62L452.24 227.48L452.66 227.87L453.08 227.72L453.50 227.21L453.92 226.83L454.34 226.77L454.76 227.89L455.18 227.42L455.60 227.82L456.02 227.44L456.44 226.62L456.86 226.79L457.28 226.64L457.70 227.02L458.12 227.39L458.54 226.89L458.96 227.84L459.38 227.86L459.80 227.47L460.22 227.35L460.64 227.61L461.06 228.45L461.48 228.44L461.90 227.49L462.32 227.22L462.74 227.74L463.16 227.21L463.58 227.29L464.00 227.08L464.42 227.71L464.84 226.78L465.26 227.41L465.68 226.98L466.10 227.39L466.52 227.94L466.94 227.50L467.36 227.47L467.78 227.53L468.20 228.46L468.62 227.84L469.04 227.22L469.46 227.38L469.88 228.07L470.30 228.14L470.72 227.78L471.14 228.24L471.56 227.60L471.98 227.21L472.40 227.47L472.82 228.44L473.24 227.11L473.66 227.23L474.08 226.88L474.50 226.81L474.92 227.86L475.34 227.00L475.76 227.47L476.18 226.94L476.60 227.09L477.02 227.16L477.44 227.20L477.86 226.73L478.28 227.48L478.70 227.53L479.12 227.56L479.54 226.81L479.96 227.51L480.38 227.92L480.80 227.25L481.22 226.99L481.64 227.27L482.06 227.28L482.48 227.29L482.90 226.92L483.32 226.97L483.74 227.61L484.16 228.42L484.58 227.70L485.00 227.61L485.42 228.29L485.84 227.67L486.26 227.85L486.68 228.38L487.10 227.44L487.52 227.05L487.94 227.68L488.36 227.68L488.78 227.03L489.20 227.89L489.62 227.88L490.04 227.71L490.46 227.43L490.88 227.52L491.30 228.09L491.72 228.13L492.14 227.83L492.56 227.83L492.98 227.83L493.40 227.74L493.82 226.91L494.24 227.17L494.66 226.69L495.08 227.10L495.50 227.91L495.92 227.40L496.34 226.97L496.76 227.12L497.18 227.56L497.60 227.71L498.02 227.53L498.44 226.90L498.86 226.69L499.28 228.02L499.70 227.85L500.12 227.18L500.54 226.99L500.96 227.38L501.38 227.39L501.80 227.88L502.22 227.95L502.64 227.53L503.06 227.44L503.48 226.74L503.90 226.69L504.32 227.75L504.74 227.14L505.16 227.93L505.58 228.24L506.00 227.03L506.42 227.34L506.84 227.49L507.26 227.86L507.68 227.73L508.10 227.40L508.52 227.90L508.94 227.35L509.36 227.20L509.78 227.24L510.20 227.40L510.62 227.89L511.04 228.31L511.46 227.93L511.46 228.79 Z" fill="#0a0a0a" stroke="#0a0a0a" stroke-width="0.35" stroke-linejoin="round"/>
<text class="an" text-anchor="end" x="506.00" y="163.40" transform="rotate(0.05 506.00 163.40)" xml:space="preserve">F. Control</text>
<text class="an" text-anchor="end" x="506.00" y="173.80" transform="rotate(0.05 506.00 173.80)">FITC+</text>
<text class="an" x="468.40" y="183.10" transform="rotate(0.05 468.40 183.10)">G</text>
<text class="sb" x="475.80" y="185.70" transform="rotate(0.05 475.80 185.70)">0</text>
<text class="sl" x="480.60" y="183.40" transform="rotate(0.05 480.60 183.40)">/</text>
<text class="an" x="484.20" y="183.10" transform="rotate(0.05 484.20 183.10)">G</text>
<text class="sb" x="491.20" y="185.70" transform="rotate(0.05 491.20 185.70)">1</text>
<text class="an" text-anchor="end" x="508.80" y="183.10" transform="rotate(0.05 508.80 183.10)">47</text>
<text class="an" x="484.60" y="192.50" transform="rotate(0.05 484.60 192.50)">S</text>
<text class="an" text-anchor="end" x="508.80" y="192.50" transform="rotate(0.05 508.80 192.50)">17</text>
<text class="an" x="467.80" y="201.80" transform="rotate(0.05 467.80 201.80)">G</text>
<text class="sb" x="475.00" y="204.40" transform="rotate(0.05 475.00 204.40)">2</text>
<text class="sl" x="479.80" y="202.10" transform="rotate(0.05 479.80 202.10)">/</text>
<text class="an" x="484.00" y="201.80" transform="rotate(0.05 484.00 201.80)">M</text>
<text class="an" text-anchor="end" x="508.80" y="201.80" transform="rotate(0.05 508.80 201.80)">35</text>
</g>
<g id="panel-G">
<path d="M317.40 262.85L517.45 262.80L517.45 339.60" fill="none" stroke="#3c3c3c" stroke-width="1.05"/>
<path d="M317.40 262.35L317.40 340.00" fill="none" stroke="#111" stroke-width="1.05"/>
<path d="M316.90 339.40L517.95 339.60" fill="none" stroke="#111" stroke-width="1.3"/>
<path d="M317.40 339.40h-3.10M317.40 336.34h-1.70M317.40 333.28h-1.70M317.40 330.21h-1.70M317.40 327.15h-1.70M317.40 324.09h-3.10M317.40 321.03h-1.70M317.40 317.97h-1.70M317.40 314.90h-1.70M317.40 311.84h-1.70M317.40 308.78h-3.10M317.40 305.72h-1.70M317.40 302.66h-1.70M317.40 299.59h-1.70M317.40 296.53h-1.70M317.40 293.47h-3.10M317.40 290.41h-1.70M317.40 287.35h-1.70M317.40 284.28h-1.70M317.40 281.22h-1.70M317.40 278.16h-3.10M317.40 275.10h-1.70M317.40 272.04h-1.70M317.40 268.97h-1.70M317.40 265.91h-1.70M317.40 262.85h-3.10" stroke="#111" stroke-width="1.05" fill="none"/>
<text class="tk" text-anchor="middle" transform="translate(312.40 338.40) rotate(-89.95)">0</text>
<text class="tk" text-anchor="middle" transform="translate(312.40 323.09) rotate(-89.95)">40</text>
<text class="tk" text-anchor="middle" transform="translate(312.40 307.78) rotate(-89.95)">80</text>
<text class="tk" text-anchor="middle" transform="translate(312.40 292.47) rotate(-89.95)">120</text>
<text class="tk" text-anchor="middle" transform="translate(312.40 277.16) rotate(-89.95)">160</text>
<text class="tk" text-anchor="middle" transform="translate(312.40 261.85) rotate(-89.95)">200</text>
<text class="ct" text-anchor="middle" transform="translate(306.10 301.73) rotate(-89.95)">Counts</text>
<path d="M317.70 339.40v3.00M325.48 339.41v1.60M333.26 339.42v1.60M341.03 339.42v1.60M348.81 339.43v1.60M356.59 339.44v3.00M364.37 339.45v1.60M372.15 339.45v1.60M379.92 339.46v1.60M387.70 339.47v1.60M395.48 339.48v3.00M403.26 339.49v1.60M411.04 339.49v1.60M418.81 339.50v1.60M426.59 339.51v1.60M434.37 339.52v3.00M442.15 339.52v1.60M449.93 339.53v1.60M457.70 339.54v1.60M465.48 339.55v1.60M473.26 339.56v3.00M481.04 339.56v1.60M488.82 339.57v1.60M496.59 339.58v1.60M504.37 339.59v1.60M512.15 339.59v3.00" stroke="#111" stroke-width="1.05" fill="none"/>
<text class="tk" text-anchor="middle" x="318.60" y="348.25" transform="rotate(0.05 318.60 348.25)">0</text>
<text class="tk" text-anchor="middle" x="357.49" y="348.29" transform="rotate(0.05 357.49 348.29)">200</text>
<text class="tk" text-anchor="middle" x="396.38" y="348.33" transform="rotate(0.05 396.38 348.33)">400</text>
<text class="tk" text-anchor="middle" x="435.27" y="348.37" transform="rotate(0.05 435.27 348.37)">600</text>
<text class="tk" text-anchor="middle" x="474.16" y="348.41" transform="rotate(0.05 474.16 348.41)">800</text>
<text class="tk" text-anchor="middle" x="513.05" y="348.44" transform="rotate(0.05 513.05 348.44)">1000</text>
<path d="M318.00 339.40L318.00 338.90L318.42 338.99L318.84 339.12L319.26 339.01L319.68 339.12L320.10 339.03L320.52 338.85L320.94 338.80L321.36 338.79L321.78 338.79L322.20 338.79L322.62 339.12L323.04 338.91L323.46 338.94L323.88 339.06L324.30 338.79L324.72 338.77L325.14 338.77L325.56 338.98L325.98 338.86L326.40 338.86L326.82 338.85L327.24 338.81L327.66 338.81L328.08 339.07L328.50 338.91L328.92 338.92L329.34 338.85L329.76 338.86L330.18 338.80L330.60 338.80L331.02 338.72L331.44 338.93L331.86 338.70L332.28 338.82L332.70 338.90L333.12 338.97L333.54 338.76L333.96 338.91L334.38 338.72L334.80 338.77L335.22 338.88L335.64 338.97L336.06 338.94L336.48 338.88L336.90 338.75L337.32 338.85L337.74 338.95L338.16 338.87L338.58 338.98L339.00 338.81L339.42 338.90L339.84 339.00L340.26 338.90L340.68 338.73L341.10 338.87L341.52 338.65L341.94 338.70L342.36 338.87L342.78 338.76L343.20 338.56L343.62 338.57L344.04 338.71L344.46 338.82L344.88 338.81L345.30 338.60L345.72 338.73L346.14 338.93L346.56 338.80L346.98 338.77L347.40 338.67L347.82 338.69L348.24 338.72L348.66 338.54L349.08 338.77L349.50 338.69L349.92 338.48L350.34 338.45L350.76 338.72L351.18 338.50L351.60 338.56L352.02 338.76L352.44 338.42L352.86 338.67L353.28 338.44L353.70 338.62L354.12 338.69L354.54 338.50L354.96 338.59L355.38 338.55L355.80 338.41L356.22 338.41L356.64 338.43L357.06 338.50L357.48 338.34L357.90 338.33L358.32 338.44L358.74 338.56L359.16 338.53L359.58 338.63L360.00 338.48L360.42 338.50L360.84 338.28L361.26 338.49L361.68 338.47L362.10 338.43L362.52 338.36L362.94 338.40L363.36 338.45L363.78 338.24L364.20 338.47L364.62 338.44L365.04 338.22L365.46 338.59L365.88 338.39L366.30 338.44L366.72 338.57L367.14 338.36L367.56 337.94L367.98 338.03L368.40 337.68L368.82 336.32L369.24 335.08L369.66 333.22L370.08 331.66L370.50 328.91L370.92 325.74L371.34 322.58L371.76 319.41L372.18 316.24L372.60 312.40L373.02 310.32L373.44 306.59L373.86 302.45L374.28 301.39L374.70 299.30L375.12 295.60L375.54 298.04L375.96 298.97L376.38 300.21L376.80 299.19L377.22 298.29L377.64 295.00L378.06 296.86L378.48 298.49L378.90 301.65L379.32 304.07L379.74 305.83L380.16 308.33L380.58 310.32L381.00 313.29L381.42 316.50L381.84 318.18L382.26 319.32L382.68 321.48L383.10 323.05L383.52 324.49L383.94 326.08L384.36 327.32L384.78 329.23L385.20 330.36L385.62 331.17L386.04 332.95L386.46 333.75L386.88 334.87L387.30 335.05L387.72 335.70L388.14 336.35L388.56 337.13L388.98 337.26L389.40 337.30L389.82 337.09L390.24 337.19L390.66 337.24L391.08 337.71L391.50 337.54L391.92 337.86L392.34 337.51L392.76 337.44L393.18 337.62L393.60 337.42L394.02 337.81L394.44 337.80L394.86 337.96L395.28 337.87L395.70 337.80L396.12 337.93L396.54 337.90L396.96 337.56L397.38 337.83L397.80 337.69L398.22 338.01L398.64 337.90L399.06 337.91L399.48 338.11L399.90 338.09L400.32 337.86L400.74 337.71L401.16 337.60L401.58 337.56L402.00 337.97L402.42 338.14L402.84 337.90L403.26 337.85L403.68 337.74L404.10 337.66L404.52 337.89L404.94 337.61L405.36 337.93L405.78 338.08L406.20 337.62L406.62 337.68L407.04 337.68L407.46 337.92L407.88 337.74L408.30 337.67L408.72 337.71L409.14 337.59L409.56 337.70L409.98 337.85L410.40 337.82L410.82 337.85L411.24 337.56L411.66 337.80L412.08 337.75L412.50 337.79L412.92 337.84L413.34 337.95L413.76 337.64L414.18 337.76L414.60 337.69L415.02 337.60L415.44 337.98L415.86 338.03L416.28 337.58L416.70 337.56L417.12 337.60L417.54 337.82L417.96 338.07L418.38 337.88L418.80 337.89L419.22 337.52L419.64 337.26L420.06 337.57L420.48 337.53L420.90 337.32L421.32 336.94L421.74 336.87L422.16 336.68L422.58 336.44L423.00 336.18L423.42 336.09L423.84 335.79L424.26 335.50L424.68 335.17L425.10 334.96L425.52 334.80L425.94 335.47L426.36 335.23L426.78 335.37L427.20 334.91L427.62 334.89L428.04 333.99L428.46 333.97L428.88 334.33L429.30 333.90L429.72 333.64L430.14 333.30L430.56 333.52L430.98 333.72L431.40 333.70L431.82 333.44L432.24 333.33L432.66 333.28L433.08 333.23L433.50 332.50L433.92 332.92L434.34 333.12L434.76 333.16L435.18 333.70L435.60 333.75L436.02 334.58L436.44 334.41L436.86 334.95L437.28 334.76L437.70 334.53L438.12 334.81L438.54 335.49L438.96 335.83L439.38 335.47L439.80 336.05L440.22 336.07L440.64 336.16L441.06 336.36L441.48 336.31L441.90 336.62L442.32 337.09L442.74 337.07L443.16 337.43L443.58 337.68L444.00 337.64L444.42 337.86L444.84 337.79L445.26 337.96L445.68 337.94L446.10 337.74L446.52 337.81L446.94 338.21L447.36 338.06L447.78 337.95L448.20 337.85L448.62 337.95L449.04 337.98L449.46 337.90L449.88 337.91L450.30 338.31L450.72 338.30L451.14 338.21L451.56 338.38L451.98 338.19L452.40 338.02L452.82 338.25L453.24 338.10L453.66 338.21L454.08 338.16L454.50 338.31L454.92 338.33L455.34 338.46L455.76 338.32L456.18 338.28L456.60 338.27L457.02 338.08L457.44 338.36L457.86 338.30L458.28 338.11L458.70 338.24L459.12 338.44L459.54 338.33L459.96 338.46L460.38 338.43L460.80 338.60L461.22 338.43L461.64 338.61L462.06 338.38L462.48 338.35L462.90 338.27L463.32 338.20L463.74 338.53L464.16 338.50L464.58 338.50L465.00 338.47L465.42 338.35L465.84 338.54L466.26 338.59L466.68 338.59L467.10 338.46L467.52 338.52L467.94 338.56L468.36 338.70L468.78 338.53L469.20 338.43L469.62 338.41L470.04 338.55L470.46 338.33L470.88 338.34L471.30 338.34L471.72 338.46L472.14 338.48L472.56 338.33L472.98 338.46L473.40 338.51L473.82 338.30L474.24 338.34L474.66 338.42L475.08 338.34L475.50 338.36L475.92 338.59L476.34 338.35L476.76 338.43L477.18 338.30L477.60 338.24L478.02 338.28L478.44 338.25L478.86 338.45L479.28 338.56L479.70 338.62L480.12 338.58L480.54 338.71L480.96 338.43L481.38 338.34L481.80 338.50L482.22 338.76L482.64 338.75L483.06 338.39L483.48 338.54L483.90 338.31L484.32 338.52L484.74 338.36L485.16 338.51L485.58 338.53L486.00 338.59L486.42 338.48L486.84 338.29L487.26 338.34L487.68 338.61L488.10 338.46L488.52 338.45L488.94 338.47L489.36 338.31L489.78 338.29L490.20 338.43L490.62 338.33L491.04 338.35L491.46 338.62L491.88 338.33L492.30 338.29L492.72 338.37L493.14 338.32L493.56 338.60L493.98 338.49L494.40 338.46L494.82 338.59L495.24 338.53L495.66 338.63L496.08 338.68L496.50 338.76L496.92 338.74L497.34 338.78L497.76 338.57L498.18 338.78L498.60 338.64L499.02 338.58L499.44 338.53L499.86 338.32L500.28 338.48L500.70 338.30L501.12 338.49L501.54 338.42L501.96 338.42L502.38 338.32L502.80 338.34L503.22 338.54L503.64 338.52L504.06 338.36L504.48 338.64L504.90 338.42L505.32 338.62L505.74 338.54L506.16 338.59L506.58 338.49L507.00 338.59L507.42 338.44L507.84 338.29L508.26 338.43L508.68 338.60L509.10 338.69L509.52 338.63L509.94 338.70L510.36 338.74L510.78 338.45L511.20 338.51L511.62 338.50L512.04 338.38L512.46 339.23L512.46 339.60 Z" fill="#0a0a0a" stroke="#0a0a0a" stroke-width="0.35" stroke-linejoin="round"/>
<text class="an" text-anchor="end" x="506.00" y="274.20" transform="rotate(0.05 506.00 274.20)" xml:space="preserve">G.  LPS</text>
<text class="an" text-anchor="end" x="506.00" y="284.90" transform="rotate(0.05 506.00 284.90)">Total cells</text>
<text class="an" x="469.60" y="295.20" transform="rotate(0.05 469.60 295.20)">G</text>
<text class="sb" x="477.00" y="297.80" transform="rotate(0.05 477.00 297.80)">0</text>
<text class="sl" x="481.80" y="295.50" transform="rotate(0.05 481.80 295.50)">/</text>
<text class="an" x="485.40" y="295.20" transform="rotate(0.05 485.40 295.20)">G</text>
<text class="sb" x="492.40" y="297.80" transform="rotate(0.05 492.40 297.80)">1</text>
<text class="an" text-anchor="end" x="509.00" y="295.20" transform="rotate(0.05 509.00 295.20)">84</text>
<text class="an" x="485.80" y="305.00" transform="rotate(0.05 485.80 305.00)">S</text>
<text class="an" text-anchor="end" x="509.00" y="305.00" transform="rotate(0.05 509.00 305.00)">5</text>
<text class="an" x="469.00" y="314.30" transform="rotate(0.05 469.00 314.30)">G</text>
<text class="sb" x="476.20" y="316.90" transform="rotate(0.05 476.20 316.90)">2</text>
<text class="sl" x="481.00" y="314.60" transform="rotate(0.05 481.00 314.60)">/</text>
<text class="an" x="485.20" y="314.30" transform="rotate(0.05 485.20 314.30)">M</text>
<text class="an" text-anchor="end" x="509.00" y="314.30" transform="rotate(0.05 509.00 314.30)">11</text>
</g>
<g id="panel-H">
<path d="M316.70 378.60L516.90 378.75L516.90 455.05" fill="none" stroke="#3c3c3c" stroke-width="1.05"/>
<path d="M316.70 378.10L316.85 455.00" fill="none" stroke="#111" stroke-width="1.05"/>
<path d="M316.35 454.40L517.40 455.05" fill="none" stroke="#111" stroke-width="1.3"/>
<path d="M316.85 454.40h-3.10M316.84 451.37h-1.70M316.84 448.34h-1.70M316.83 445.30h-1.70M316.83 442.27h-1.70M316.82 439.24h-3.10M316.81 436.21h-1.70M316.81 433.18h-1.70M316.80 430.14h-1.70M316.80 427.11h-1.70M316.79 424.08h-3.10M316.78 421.05h-1.70M316.78 418.02h-1.70M316.77 414.98h-1.70M316.77 411.95h-1.70M316.76 408.92h-3.10M316.75 405.89h-1.70M316.75 402.86h-1.70M316.74 399.82h-1.70M316.74 396.79h-1.70M316.73 393.76h-3.10M316.72 390.73h-1.70M316.72 387.70h-1.70M316.71 384.66h-1.70M316.71 381.63h-1.70M316.70 378.60h-3.10" stroke="#111" stroke-width="1.05" fill="none"/>
<text class="tk" text-anchor="middle" transform="translate(311.85 453.40) rotate(-89.95)">0</text>
<text class="tk" text-anchor="middle" transform="translate(311.82 438.24) rotate(-89.95)">40</text>
<text class="tk" text-anchor="middle" transform="translate(311.79 423.08) rotate(-89.95)">80</text>
<text class="tk" text-anchor="middle" transform="translate(311.76 407.92) rotate(-89.95)">120</text>
<text class="tk" text-anchor="middle" transform="translate(311.73 392.76) rotate(-89.95)">160</text>
<text class="tk" text-anchor="middle" transform="translate(311.70 377.60) rotate(-89.95)">200</text>
<text class="ct" text-anchor="middle" transform="translate(305.47 417.10) rotate(-89.95)">Counts</text>
<path d="M317.15 454.40v3.00M324.92 454.43v1.60M332.70 454.45v1.60M340.47 454.48v1.60M348.25 454.50v1.60M356.02 454.53v3.00M363.79 454.55v1.60M371.57 454.58v1.60M379.34 454.60v1.60M387.12 454.63v1.60M394.89 454.65v3.00M402.66 454.68v1.60M410.44 454.70v1.60M418.21 454.73v1.60M425.99 454.75v1.60M433.76 454.78v3.00M441.53 454.81v1.60M449.31 454.83v1.60M457.08 454.86v1.60M464.86 454.88v1.60M472.63 454.91v3.00M480.40 454.93v1.60M488.18 454.96v1.60M495.95 454.98v1.60M503.73 455.01v1.60M511.50 455.03v3.00" stroke="#111" stroke-width="1.05" fill="none"/>
<text class="tk" text-anchor="middle" x="318.05" y="463.25" transform="rotate(0.05 318.05 463.25)">0</text>
<text class="tk" text-anchor="middle" x="356.92" y="463.38" transform="rotate(0.05 356.92 463.38)">200</text>
<text class="tk" text-anchor="middle" x="395.79" y="463.50" transform="rotate(0.05 395.79 463.50)">400</text>
<text class="tk" text-anchor="middle" x="434.66" y="463.63" transform="rotate(0.05 434.66 463.63)">600</text>
<text class="tk" text-anchor="middle" x="473.53" y="463.76" transform="rotate(0.05 473.53 463.76)">800</text>
<text class="tk" text-anchor="middle" x="512.40" y="463.88" transform="rotate(0.05 512.40 463.88)">1000</text>
<path d="M317.50 454.40L317.50 453.90L317.92 453.98L318.34 453.87L318.76 453.81L319.18 453.88L319.60 453.80L320.02 453.81L320.44 453.93L320.86 454.02L321.28 454.03L321.70 453.89L322.12 453.90L322.54 453.75L322.96 453.75L323.38 453.74L323.80 453.90L324.22 453.96L324.64 453.77L325.06 453.77L325.48 453.91L325.90 453.84L326.32 453.85L326.74 453.81L327.16 453.69L327.58 453.82L328.00 453.74L328.42 453.69L328.84 453.86L329.26 453.71L329.68 453.99L330.10 453.77L330.52 453.80L330.94 453.63L331.36 453.86L331.78 453.96L332.20 453.67L332.62 453.85L333.04 453.69L333.46 453.80L333.88 453.67L334.30 453.87L334.72 453.79L335.14 453.77L335.56 453.78L335.98 453.83L336.40 453.55L336.82 453.61L337.24 453.77L337.66 453.75L338.08 453.70L338.50 453.94L338.92 453.58L339.34 453.76L339.76 453.70L340.18 453.50L340.60 453.65L341.02 453.85L341.44 453.69L341.86 453.68L342.28 453.57L342.70 453.68L343.12 453.63L343.54 453.53L343.96 453.69L344.38 453.87L344.80 453.74L345.22 453.59L345.64 453.65L346.06 453.42L346.48 453.52L346.90 453.43L347.32 453.63L347.74 453.61L348.16 453.62L348.58 453.63L349.00 453.71L349.42 453.64L349.84 453.84L350.26 453.66L350.68 453.60L351.10 453.76L351.52 453.74L351.94 453.77L352.36 453.56L352.78 453.56L353.20 453.42L353.62 453.54L354.04 453.50L354.46 453.77L354.88 453.52L355.30 453.59L355.72 453.56L356.14 453.46L356.56 453.52L356.98 453.62L357.40 453.54L357.82 453.49L358.24 453.50L358.66 453.46L359.08 453.51L359.50 453.37L359.92 453.49L360.34 453.24L360.76 453.24L361.18 453.23L361.60 453.37L362.02 453.33L362.44 453.45L362.86 453.39L363.28 453.44L363.70 453.71L364.12 453.41L364.54 453.70L364.96 453.40L365.38 453.27L365.80 453.09L366.22 452.62L366.64 452.53L367.06 451.38L367.48 449.30L367.90 446.94L368.32 445.46L368.74 442.85L369.16 439.01L369.58 436.51L370.00 433.11L370.42 430.01L370.84 426.61L371.26 423.27L371.68 421.91L372.10 418.54L372.52 415.98L372.94 415.08L373.36 411.25L373.78 410.49L374.20 410.01L374.62 407.14L375.04 404.90L375.46 408.95L375.88 409.85L376.30 412.89L376.72 415.52L377.14 418.21L377.56 420.88L377.98 423.69L378.40 426.29L378.82 428.20L379.24 431.53L379.66 435.28L380.08 437.61L380.50 440.22L380.92 442.37L381.34 442.76L381.76 444.89L382.18 446.37L382.60 447.03L383.02 447.75L383.44 447.93L383.86 449.08L384.28 449.58L384.70 449.97L385.12 450.50L385.54 450.84L385.96 451.42L386.38 451.96L386.80 451.96L387.22 452.02L387.64 452.26L388.06 452.52L388.48 452.32L388.90 452.45L389.32 452.82L389.74 452.98L390.16 452.91L390.58 452.87L391.00 452.97L391.42 453.26L391.84 453.20L392.26 453.23L392.68 453.01L393.10 453.45L393.52 453.34L393.94 453.09L394.36 453.12L394.78 453.13L395.20 453.00L395.62 453.27L396.04 453.10L396.46 453.29L396.88 453.22L397.30 452.93L397.72 453.14L398.14 453.14L398.56 452.96L398.98 453.10L399.40 452.93L399.82 452.93L400.24 453.16L400.66 452.95L401.08 452.94L401.50 453.16L401.92 453.18L402.34 453.09L402.76 453.44L403.18 453.12L403.60 452.96L404.02 452.96L404.44 452.97L404.86 452.97L405.28 453.08L405.70 452.94L406.12 453.05L406.54 453.09L406.96 453.18L407.38 453.01L407.80 453.21L408.22 453.01L408.64 452.95L409.06 453.14L409.48 453.13L409.90 453.15L410.32 453.13L410.74 453.08L411.16 452.92L411.58 452.71L412.00 452.77L412.42 452.99L412.84 452.92L413.26 452.84L413.68 452.56L414.10 452.53L414.52 452.60L414.94 452.45L415.36 452.32L415.78 452.58L416.20 452.19L416.62 452.13L417.04 452.24L417.46 452.29L417.88 451.85L418.30 451.70L418.72 451.56L419.14 451.48L419.56 451.41L419.98 451.36L420.40 451.58L420.82 451.44L421.24 451.49L421.66 451.00L422.08 450.51L422.50 450.25L422.92 450.10L423.34 450.10L423.76 449.84L424.18 450.06L424.60 450.40L425.02 449.84L425.44 449.69L425.86 449.96L426.28 449.64L426.70 449.93L427.12 449.47L427.54 448.99L427.96 449.43L428.38 448.97L428.80 449.06L429.22 448.91L429.64 448.85L430.06 448.18L430.48 448.17L430.90 448.92L431.32 448.88L431.74 448.73L432.16 449.41L432.58 449.24L433.00 449.74L433.42 449.42L433.84 448.93L434.26 449.31L434.68 449.88L435.10 450.42L435.52 450.45L435.94 450.80L436.36 450.62L436.78 450.66L437.20 450.63L437.62 451.05L438.04 450.81L438.46 451.23L438.88 451.73L439.30 451.75L439.72 451.60L440.14 451.72L440.56 452.10L440.98 452.44L441.40 452.38L441.82 452.56L442.24 452.73L442.66 452.90L443.08 452.77L443.50 453.19L443.92 453.06L444.34 453.28L444.76 453.10L445.18 453.08L445.60 453.07L446.02 453.22L446.44 453.07L446.86 452.96L447.28 453.10L447.70 453.11L448.12 453.00L448.54 453.01L448.96 453.06L449.38 453.12L449.80 453.43L450.22 453.33L450.64 453.47L451.06 453.32L451.48 453.38L451.90 453.12L452.32 453.13L452.74 453.23L453.16 453.28L453.58 453.25L454.00 453.22L454.42 453.35L454.84 453.37L455.26 453.42L455.68 453.53L456.10 453.49L456.52 453.44L456.94 453.42L457.36 453.54L457.78 453.74L458.20 453.71L458.62 453.66L459.04 453.77L459.46 453.55L459.88 453.70L460.30 453.53L460.72 453.40L461.14 453.39L461.56 453.44L461.98 453.39L462.40 453.57L462.82 453.60L463.24 453.43L463.66 453.70L464.08 453.74L464.50 453.94L464.92 453.74L465.34 453.66L465.76 453.74L466.18 453.86L466.60 453.63L467.02 453.59L467.44 453.45L467.86 453.43L468.28 453.43L468.70 453.48L469.12 453.54L469.54 453.62L469.96 453.89L470.38 453.97L470.80 453.80L471.22 453.88L471.64 453.83L472.06 453.56L472.48 453.76L472.90 453.54L473.32 453.47L473.74 453.64L474.16 453.60L474.58 453.81L475.00 454.00L475.42 453.91L475.84 453.84L476.26 453.79L476.68 453.77L477.10 453.80L477.52 453.74L477.94 453.98L478.36 453.93L478.78 453.67L479.20 453.85L479.62 453.75L480.04 453.57L480.46 453.66L480.88 453.52L481.30 453.70L481.72 453.80L482.14 453.79L482.56 453.87L482.98 453.85L483.40 453.83L483.82 453.67L484.24 453.71L484.66 453.78L485.08 453.78L485.50 453.55L485.92 453.75L486.34 453.68L486.76 454.06L487.18 454.08L487.60 453.86L488.02 453.84L488.44 453.57L488.86 453.58L489.28 453.74L489.70 453.75L490.12 453.75L490.54 453.63L490.96 453.59L491.38 453.59L491.80 453.59L492.22 453.77L492.64 453.97L493.06 454.11L493.48 454.00L493.90 453.76L494.32 453.90L494.74 453.87L495.16 453.81L495.58 453.64L496.00 453.86L496.42 453.86L496.84 453.83L497.26 453.89L497.68 453.62L498.10 453.84L498.52 453.73L498.94 453.71L499.36 453.63L499.78 453.88L500.20 454.09L500.62 454.06L501.04 453.96L501.46 453.66L501.88 453.88L502.30 454.03L502.72 454.01L503.14 454.02L503.56 453.97L503.98 453.86L504.40 453.83L504.82 453.87L505.24 453.65L505.66 453.66L506.08 453.74L506.50 453.95L506.92 453.93L507.34 454.01L507.76 453.93L508.18 454.00L508.60 453.83L509.02 454.03L509.44 453.98L509.86 453.74L510.28 453.68L510.70 453.76L511.12 453.90L511.54 453.75L511.96 453.68L512.38 454.56L512.38 455.04 Z" fill="#0a0a0a" stroke="#0a0a0a" stroke-width="0.35" stroke-linejoin="round"/>
<text class="an" text-anchor="end" x="506.00" y="390.40" transform="rotate(0.05 506.00 390.40)" xml:space="preserve">H. LPS</text>
<text class="an" text-anchor="end" x="506.00" y="400.20" transform="rotate(0.05 506.00 400.20)">FITC+</text>
<text class="an" x="469.60" y="409.80" transform="rotate(0.05 469.60 409.80)">G</text>
<text class="sb" x="477.00" y="412.40" transform="rotate(0.05 477.00 412.40)">0</text>
<text class="sl" x="481.80" y="410.10" transform="rotate(0.05 481.80 410.10)">/</text>
<text class="an" x="485.40" y="409.80" transform="rotate(0.05 485.40 409.80)">G</text>
<text class="sb" x="492.40" y="412.40" transform="rotate(0.05 492.40 412.40)">1</text>
<text class="an" text-anchor="end" x="509.00" y="409.80" transform="rotate(0.05 509.00 409.80)">84</text>
<text class="an" x="485.80" y="419.20" transform="rotate(0.05 485.80 419.20)">S</text>
<text class="an" text-anchor="end" x="509.00" y="419.20" transform="rotate(0.05 509.00 419.20)">5</text>
<text class="an" x="469.00" y="428.80" transform="rotate(0.05 469.00 428.80)">G</text>
<text class="sb" x="476.20" y="431.40" transform="rotate(0.05 476.20 431.40)">2</text>
<text class="sl" x="481.00" y="429.10" transform="rotate(0.05 481.00 429.10)">/</text>
<text class="an" x="485.20" y="428.80" transform="rotate(0.05 485.20 428.80)">M</text>
<text class="an" text-anchor="end" x="509.00" y="428.80" transform="rotate(0.05 509.00 428.80)">11</text>
</g>
<text class="xl" text-anchor="middle" x="113.4" y="494.7" transform="rotate(0.03 113.4 494.7)">Propidium Iodide</text>
<text class="xl" text-anchor="middle" x="406.9" y="494.3" transform="rotate(0.03 406.9 494.3)">Propidium Iodide</text>
</svg>
</body>
</html>
